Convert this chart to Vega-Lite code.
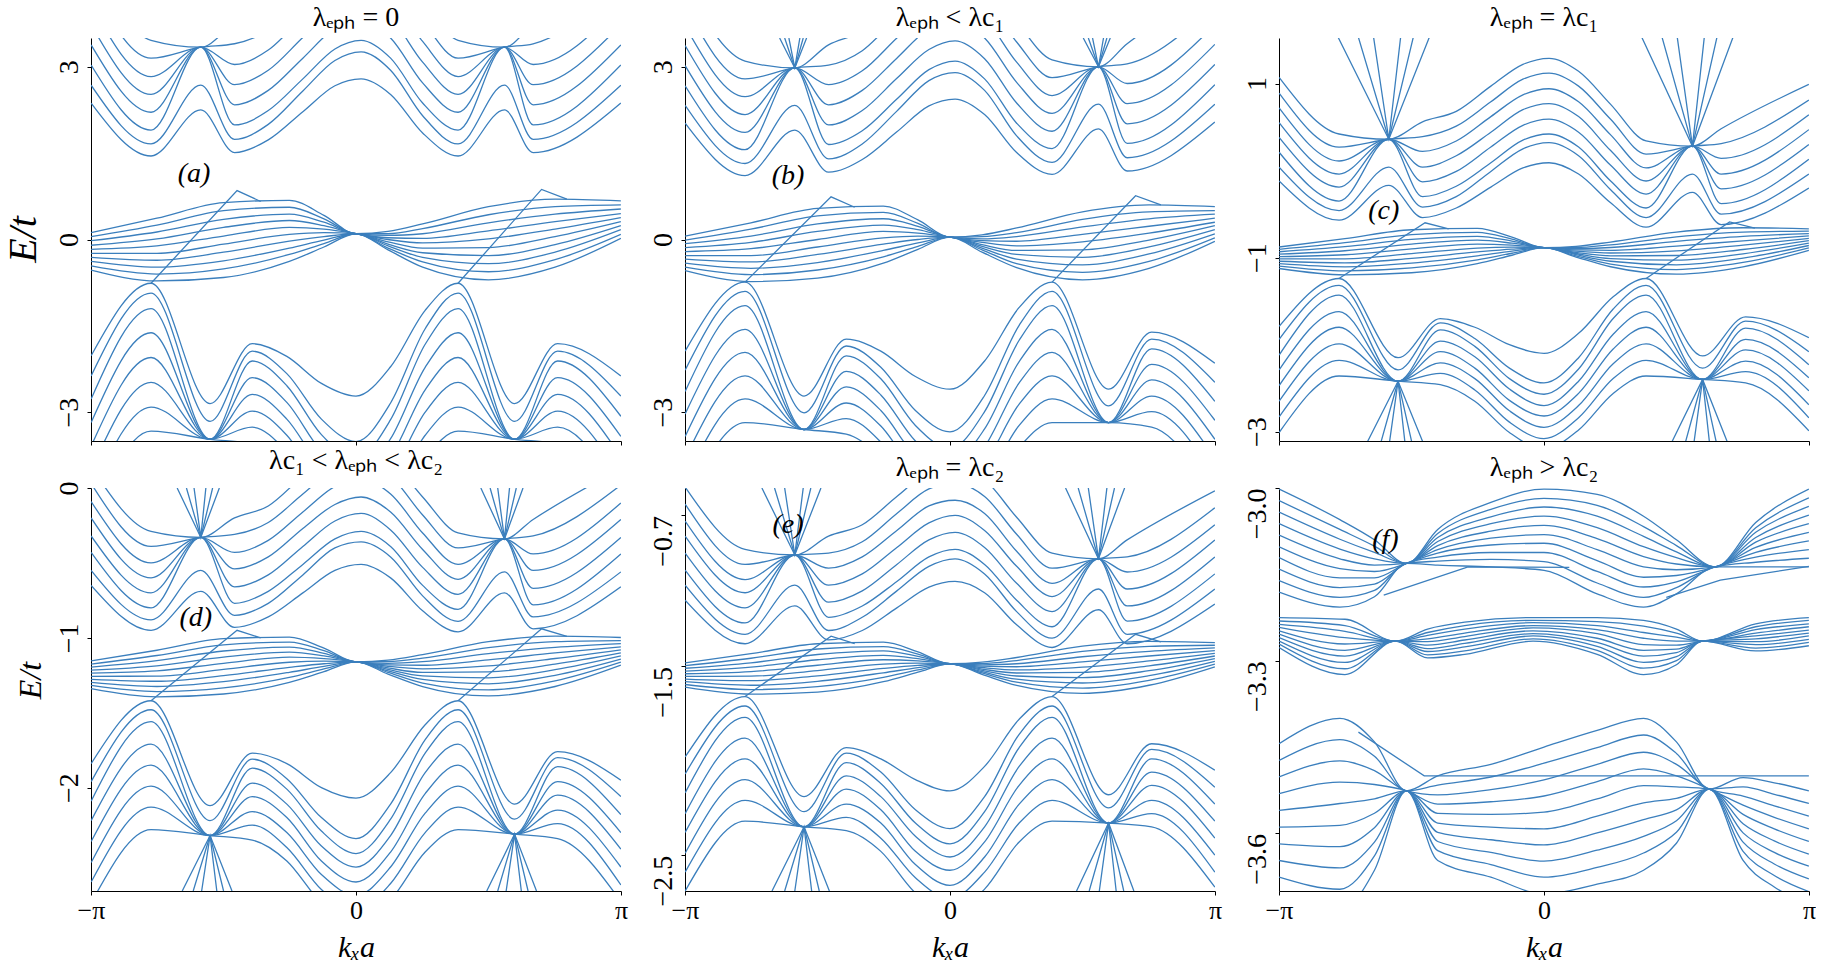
{
"$schema":"https://vega.github.io/schema/vega-lite/v6.json",
"background":"white",
"padding":{"left":3,"top":4,"right":0,"bottom":0},
"config":{
"view":{"stroke":null},
"font":"Liberation Serif",
"title":{"font":"Liberation Serif","fontSize":28,"fontWeight":"normal","color":"#000","offset":6},
"axis":{"grid":false,"domainColor":"#000","domainWidth":1,"tickColor":"#000","tickSize":4,"labelColor":"#000","labelFont":"Liberation Serif","labelFontSize":28,"titleFont":"Liberation Serif","titleFontWeight":"normal","titleFontStyle":"italic","titleColor":"#000","labelOverlap":false},
"axisY":{"labelAngle":-90,"labelAlign":"center","labelBaseline":"bottom","labelPadding":4},
"axisX":{"labelAngle":0,"labelPadding":2,"labelFontSize":26,"labelFlush":false},
"line":{"color":"#3b7fbd","strokeWidth":1.3}
},
"spacing":0,
"vconcat":[
{"hconcat":[
{"width":530,"height":403,"title":"λₑₚₕ = 0",
"encoding":{"x":{"field":"x","type":"quantitative","scale":{"domain":[-3.1416,3.1416],"nice":false,"zero":false},"axis":{"values":[-3.1416,0,3.1416],"labels":false,"title":null}},
"y":{"field":"y","type":"quantitative","scale":{"domain":[-3.5,3.5],"nice":false,"zero":false},"axis":{"values":[-3,0,3],"title":"E/t","titleFontSize":40,"titleX":-68,"titleY":201,"titleAlign":"center","titleBaseline":"middle","titleAngle":-90}}},
"layer":[
{"data":{"name":"a1"},"mark":{"type":"line","interpolate":"monotone","clip":true},"encoding":{"detail":{"field":"l","type":"nominal"}}},
{"data":{"name":"a2"},"mark":{"type":"line","interpolate":"monotone","clip":true},"encoding":{"detail":{"field":"l","type":"nominal"}}},
{"data":{"name":"a3"},"mark":{"type":"line","clip":true},"encoding":{"detail":{"field":"l","type":"nominal"}}},
{"data":{"values":[{"x":-1.92,"y":1.13,"t":"(a)"}]},"mark":{"type":"text","fontSize":28,"fontStyle":"italic","color":"#000"},"encoding":{"text":{"field":"t","type":"nominal"}}}
]},
{"width":530,"height":403,"title":"λₑₚₕ < λc₁",
"encoding":{"x":{"field":"x","type":"quantitative","scale":{"domain":[-3.1416,3.1416],"nice":false,"zero":false},"axis":{"values":[-3.1416,0,3.1416],"labels":false,"title":null}},
"y":{"field":"y","type":"quantitative","scale":{"domain":[-3.5,3.5],"nice":false,"zero":false},"axis":{"values":[-3,0,3],"title":null}}},
"layer":[
{"data":{"name":"b1"},"mark":{"type":"line","interpolate":"monotone","clip":true},"encoding":{"detail":{"field":"l","type":"nominal"}}},
{"data":{"name":"b2"},"mark":{"type":"line","interpolate":"monotone","clip":true},"encoding":{"detail":{"field":"l","type":"nominal"}}},
{"data":{"name":"b3"},"mark":{"type":"line","clip":true},"encoding":{"detail":{"field":"l","type":"nominal"}}},
{"data":{"values":[{"x":-1.92,"y":1.1,"t":"(b)"}]},"mark":{"type":"text","fontSize":28,"fontStyle":"italic","color":"#000"},"encoding":{"text":{"field":"t","type":"nominal"}}}
]},
{"width":530,"height":403,"title":"λₑₚₕ = λc₁",
"encoding":{"x":{"field":"x","type":"quantitative","scale":{"domain":[-3.1416,3.1416],"nice":false,"zero":false},"axis":{"values":[-3.1416,0,3.1416],"labels":false,"title":null}},
"y":{"field":"y","type":"quantitative","scale":{"domain":[-3.107,1.523],"nice":false,"zero":false},"axis":{"values":[-3,-1,1],"title":null}}},
"layer":[
{"data":{"name":"c1"},"mark":{"type":"line","interpolate":"monotone","clip":true},"encoding":{"detail":{"field":"l","type":"nominal"}}},
{"data":{"name":"c2"},"mark":{"type":"line","interpolate":"monotone","clip":true},"encoding":{"detail":{"field":"l","type":"nominal"}}},
{"data":{"name":"c3"},"mark":{"type":"line","clip":true},"encoding":{"detail":{"field":"l","type":"nominal"}}},
{"data":{"values":[{"x":-1.9,"y":-0.46,"t":"(c)"}]},"mark":{"type":"text","fontSize":28,"fontStyle":"italic","color":"#000"},"encoding":{"text":{"field":"t","type":"nominal"}}}
]}
],"spacing":64,"bounds":"flush"},
{"hconcat":[
{"width":530,"height":403,"title":"λc₁ < λₑₚₕ < λc₂",
"encoding":{"x":{"field":"x","type":"quantitative","scale":{"domain":[-3.1416,3.1416],"nice":false,"zero":false},"axis":{"values":[-3.1416,0,3.1416],"labelExpr":"datum.value < -1 ? '−π' : (datum.value > 1 ? 'π' : '0')","title":"kₓa","titleFontSize":30,"titleY":56,"titleBaseline":"middle"}},
"y":{"field":"y","type":"quantitative","scale":{"domain":[-2.69,0],"nice":false,"zero":false},"axis":{"values":[-2,-1,0],"title":"E/t","titleFontSize":32,"titleX":-61,"titleY":192,"titleAlign":"center","titleBaseline":"middle","titleAngle":-90}}},
"layer":[
{"data":{"name":"d1"},"mark":{"type":"line","interpolate":"monotone","clip":true},"encoding":{"detail":{"field":"l","type":"nominal"}}},
{"data":{"name":"d2"},"mark":{"type":"line","interpolate":"monotone","clip":true},"encoding":{"detail":{"field":"l","type":"nominal"}}},
{"data":{"name":"d3"},"mark":{"type":"line","clip":true},"encoding":{"detail":{"field":"l","type":"nominal"}}},
{"data":{"values":[{"x":-1.9,"y":-0.87,"t":"(d)"}]},"mark":{"type":"text","fontSize":28,"fontStyle":"italic","color":"#000"},"encoding":{"text":{"field":"t","type":"nominal"}}}
]},
{"width":530,"height":403,"title":"λₑₚₕ = λc₂",
"encoding":{"x":{"field":"x","type":"quantitative","scale":{"domain":[-3.1416,3.1416],"nice":false,"zero":false},"axis":{"values":[-3.1416,0,3.1416],"labelExpr":"datum.value < -1 ? '−π' : (datum.value > 1 ? 'π' : '0')","title":"kₓa","titleFontSize":30,"titleY":56,"titleBaseline":"middle"}},
"y":{"field":"y","type":"quantitative","scale":{"domain":[-2.69,-0.555],"nice":false,"zero":false},"axis":{"values":[-2.5,-1.5,-0.7],"format":".1f","title":null,"labelAlign":"right"}}},
"layer":[
{"data":{"name":"e1"},"mark":{"type":"line","interpolate":"monotone","clip":true},"encoding":{"detail":{"field":"l","type":"nominal"}}},
{"data":{"name":"e2"},"mark":{"type":"line","interpolate":"monotone","clip":true},"encoding":{"detail":{"field":"l","type":"nominal"}}},
{"data":{"name":"e3"},"mark":{"type":"line","clip":true},"encoding":{"detail":{"field":"l","type":"nominal"}}},
{"data":{"values":[{"x":-1.92,"y":-0.75,"t":"(e)"}]},"mark":{"type":"text","fontSize":28,"fontStyle":"italic","color":"#000"},"encoding":{"text":{"field":"t","type":"nominal"}}}
]},
{"width":530,"height":403,"title":"λₑₚₕ > λc₂",
"encoding":{"x":{"field":"x","type":"quantitative","scale":{"domain":[-3.1416,3.1416],"nice":false,"zero":false},"axis":{"values":[-3.1416,0,3.1416],"labelExpr":"datum.value < -1 ? '−π' : (datum.value > 1 ? 'π' : '0')","title":"kₓa","titleFontSize":30,"titleY":56,"titleBaseline":"middle"}},
"y":{"field":"y","type":"quantitative","scale":{"domain":[-3.7,-3.0],"nice":false,"zero":false},"axis":{"values":[-3.6,-3.3,-3.0],"format":".1f","title":null,"labelAlign":"right"}}},
"layer":[
{"data":{"name":"f1"},"mark":{"type":"line","interpolate":"monotone","clip":true},"encoding":{"detail":{"field":"l","type":"nominal"}}},
{"data":{"name":"f2"},"mark":{"type":"line","interpolate":"monotone","clip":true},"encoding":{"detail":{"field":"l","type":"nominal"}}},
{"data":{"name":"f3"},"mark":{"type":"line","clip":true},"encoding":{"detail":{"field":"l","type":"nominal"}}},
{"data":{"values":[{"x":-1.88,"y":-3.09,"t":"(f)"}]},"mark":{"type":"text","fontSize":28,"fontStyle":"italic","color":"#000"},"encoding":{"text":{"field":"t","type":"nominal"}}}
]}
],"spacing":64,"bounds":"flush"}
],
"datasets":{
"a1":[
{"l":11,"x":-3.14,"y":0.12},{"l":11,"x":-2.36,"y":0.37},{"l":11,"x":-1.57,"y":0.64},{"l":11,"x":-0.79,"y":0.68},{"l":11,"x":-0.38,"y":0.42},{"l":11,"x":0,"y":0.1},{"l":11,"x":0.38,"y":0.14},{"l":11,"x":0.79,"y":0.27},{"l":11,"x":1.57,"y":0.57},{"l":11,"x":2.36,"y":0.7},{"l":11,"x":3.14,"y":0.67},
{"l":12,"x":-3.14,"y":0.05},{"l":12,"x":-2.36,"y":0.25},{"l":12,"x":-1.57,"y":0.5},{"l":12,"x":-0.79,"y":0.56},{"l":12,"x":-0.38,"y":0.36},{"l":12,"x":0,"y":0.1},{"l":12,"x":0.38,"y":0.1},{"l":12,"x":0.79,"y":0.19},{"l":12,"x":1.57,"y":0.43},{"l":12,"x":2.36,"y":0.57},{"l":12,"x":3.14,"y":0.6},
{"l":13,"x":-3.14,"y":-0.02},{"l":13,"x":-2.36,"y":0.13},{"l":13,"x":-1.57,"y":0.35},{"l":13,"x":-0.79,"y":0.44},{"l":13,"x":-0.38,"y":0.3},{"l":13,"x":0,"y":0.1},{"l":13,"x":0.38,"y":0.07},{"l":13,"x":0.79,"y":0.1},{"l":13,"x":1.57,"y":0.29},{"l":13,"x":2.36,"y":0.44},{"l":13,"x":3.14,"y":0.53},
{"l":14,"x":-3.14,"y":-0.1},{"l":14,"x":-2.36,"y":0.01},{"l":14,"x":-1.57,"y":0.21},{"l":14,"x":-0.79,"y":0.33},{"l":14,"x":-0.38,"y":0.24},{"l":14,"x":0,"y":0.1},{"l":14,"x":0.38,"y":0.03},{"l":14,"x":0.79,"y":0.02},{"l":14,"x":1.57,"y":0.15},{"l":14,"x":2.36,"y":0.31},{"l":14,"x":3.14,"y":0.45},
{"l":15,"x":-3.14,"y":-0.17},{"l":15,"x":-2.36,"y":-0.11},{"l":15,"x":-1.57,"y":0.06},{"l":15,"x":-0.79,"y":0.21},{"l":15,"x":-0.38,"y":0.18},{"l":15,"x":0,"y":0.1},{"l":15,"x":0.38,"y":0},{"l":15,"x":0.79,"y":-0.06},{"l":15,"x":1.57,"y":0.01},{"l":15,"x":2.36,"y":0.18},{"l":15,"x":3.14,"y":0.38},
{"l":16,"x":-3.14,"y":-0.24},{"l":16,"x":-2.36,"y":-0.24},{"l":16,"x":-1.57,"y":-0.08},{"l":16,"x":-0.79,"y":0.09},{"l":16,"x":-0.38,"y":0.12},{"l":16,"x":0,"y":0.1},{"l":16,"x":0.38,"y":-0.04},{"l":16,"x":0.79,"y":-0.15},{"l":16,"x":1.57,"y":-0.14},{"l":16,"x":2.36,"y":0.05},{"l":16,"x":3.14,"y":0.31},
{"l":17,"x":-3.14,"y":-0.31},{"l":17,"x":-2.36,"y":-0.36},{"l":17,"x":-1.57,"y":-0.22},{"l":17,"x":-0.79,"y":-0.03},{"l":17,"x":-0.38,"y":0.05},{"l":17,"x":0,"y":0.1},{"l":17,"x":0.38,"y":-0.08},{"l":17,"x":0.79,"y":-0.23},{"l":17,"x":1.57,"y":-0.28},{"l":17,"x":2.36,"y":-0.09},{"l":17,"x":3.14,"y":0.24},
{"l":18,"x":-3.14,"y":-0.38},{"l":18,"x":-2.36,"y":-0.48},{"l":18,"x":-1.57,"y":-0.37},{"l":18,"x":-0.79,"y":-0.15},{"l":18,"x":-0.38,"y":-0.01},{"l":18,"x":0,"y":0.1},{"l":18,"x":0.38,"y":-0.11},{"l":18,"x":0.79,"y":-0.31},{"l":18,"x":1.57,"y":-0.42},{"l":18,"x":2.36,"y":-0.22},{"l":18,"x":3.14,"y":0.17},
{"l":19,"x":-3.14,"y":-0.46},{"l":19,"x":-2.36,"y":-0.6},{"l":19,"x":-1.57,"y":-0.51},{"l":19,"x":-0.79,"y":-0.26},{"l":19,"x":-0.38,"y":-0.07},{"l":19,"x":0,"y":0.1},{"l":19,"x":0.38,"y":-0.15},{"l":19,"x":0.79,"y":-0.39},{"l":19,"x":1.57,"y":-0.56},{"l":19,"x":2.36,"y":-0.35},{"l":19,"x":3.14,"y":0.09},
{"l":20,"x":-3.14,"y":-0.53},{"l":20,"x":-2.36,"y":-0.72},{"l":20,"x":-1.57,"y":-0.66},{"l":20,"x":-0.79,"y":-0.38},{"l":20,"x":-0.38,"y":-0.13},{"l":20,"x":0,"y":0.1},{"l":20,"x":0.38,"y":-0.18},{"l":20,"x":0.79,"y":-0.48},{"l":20,"x":1.57,"y":-0.7},{"l":20,"x":2.36,"y":-0.48},{"l":20,"x":3.14,"y":0.02}
],
"a2":[
{"l":1,"x":-3.14,"y":2.37},{"l":1,"x":-2.43,"y":1.45},{"l":1,"x":-1.84,"y":2.25},{"l":1,"x":-1.44,"y":1.51},{"l":1,"x":-1.04,"y":1.73},{"l":1,"x":-0.63,"y":2.22},{"l":1,"x":-0.25,"y":2.67},{"l":1,"x":0.06,"y":2.79},{"l":1,"x":0.41,"y":2.52},{"l":1,"x":0.79,"y":1.85},{"l":1,"x":1.21,"y":1.45},{"l":1,"x":1.76,"y":2.25},{"l":1,"x":2.1,"y":1.51},{"l":1,"x":3.14,"y":2.37},
{"l":2,"x":-3.14,"y":2.68},{"l":2,"x":-2.43,"y":1.66},{"l":2,"x":-1.84,"y":2.68},{"l":2,"x":-1.44,"y":1.74},{"l":2,"x":-1.04,"y":2.0},{"l":2,"x":-0.63,"y":2.58},{"l":2,"x":-0.25,"y":3.11},{"l":2,"x":0.06,"y":3.26},{"l":2,"x":0.41,"y":2.94},{"l":2,"x":0.79,"y":2.15},{"l":2,"x":1.21,"y":1.66},{"l":2,"x":1.76,"y":2.68},{"l":2,"x":2.1,"y":1.74},{"l":2,"x":3.14,"y":2.68},
{"l":3,"x":-3.14,"y":3.03},{"l":3,"x":-2.43,"y":1.9},{"l":3,"x":-1.84,"y":3.34},{"l":3,"x":-1.44,"y":1.99},{"l":3,"x":-1.04,"y":2.24},{"l":3,"x":-0.63,"y":2.79},{"l":3,"x":-0.25,"y":3.31},{"l":3,"x":0.06,"y":3.46},{"l":3,"x":0.41,"y":3.15},{"l":3,"x":0.79,"y":2.37},{"l":3,"x":1.21,"y":1.9},{"l":3,"x":1.76,"y":3.34},{"l":3,"x":2.1,"y":1.99},{"l":3,"x":3.14,"y":3.03},
{"l":4,"x":-3.14,"y":3.38},{"l":4,"x":-2.43,"y":2.21},{"l":4,"x":-1.84,"y":3.34},{"l":4,"x":-1.44,"y":2.34},{"l":4,"x":-1.04,"y":2.59},{"l":4,"x":-0.63,"y":3.15},{"l":4,"x":-0.25,"y":3.67},{"l":4,"x":0.06,"y":3.82},{"l":4,"x":0.41,"y":3.5},{"l":4,"x":0.79,"y":2.72},{"l":4,"x":1.21,"y":2.21},{"l":4,"x":1.76,"y":3.34},{"l":4,"x":2.1,"y":2.34},{"l":4,"x":3.14,"y":3.38},
{"l":5,"x":-3.14,"y":3.73},{"l":5,"x":-2.43,"y":2.52},{"l":5,"x":-1.84,"y":3.34},{"l":5,"x":-1.44,"y":2.69},{"l":5,"x":-1.04,"y":2.94},{"l":5,"x":-0.63,"y":3.51},{"l":5,"x":-0.25,"y":4.03},{"l":5,"x":0.06,"y":4.18},{"l":5,"x":0.41,"y":3.86},{"l":5,"x":0.79,"y":3.08},{"l":5,"x":1.21,"y":2.52},{"l":5,"x":1.76,"y":3.34},{"l":5,"x":2.1,"y":2.69},{"l":5,"x":3.14,"y":3.73},
{"l":6,"x":-3.14,"y":4.08},{"l":6,"x":-2.43,"y":2.83},{"l":6,"x":-1.84,"y":3.34},{"l":6,"x":-1.44,"y":3.04},{"l":6,"x":-1.04,"y":3.29},{"l":6,"x":-0.63,"y":3.87},{"l":6,"x":-0.25,"y":4.39},{"l":6,"x":0.06,"y":4.53},{"l":6,"x":0.41,"y":4.22},{"l":6,"x":0.79,"y":3.44},{"l":6,"x":1.21,"y":2.83},{"l":6,"x":1.76,"y":3.34},{"l":6,"x":2.1,"y":3.04},{"l":6,"x":3.14,"y":4.08},
{"l":7,"x":-3.14,"y":4.43},{"l":7,"x":-2.43,"y":3.15},{"l":7,"x":-1.84,"y":3.34},{"l":7,"x":-1.44,"y":3.4},{"l":7,"x":-1.04,"y":3.64},{"l":7,"x":-0.63,"y":4.23},{"l":7,"x":-0.25,"y":4.74},{"l":7,"x":0.06,"y":4.89},{"l":7,"x":0.41,"y":4.58},{"l":7,"x":0.79,"y":3.8},{"l":7,"x":1.21,"y":3.15},{"l":7,"x":1.76,"y":3.34},{"l":7,"x":2.1,"y":3.4},{"l":7,"x":3.14,"y":4.43},
{"l":8,"x":-3.14,"y":4.78},{"l":8,"x":-2.43,"y":3.46},{"l":8,"x":-1.84,"y":3.34},{"l":8,"x":-1.44,"y":3.75},{"l":8,"x":-1.04,"y":4.0},{"l":8,"x":-0.63,"y":4.59},{"l":8,"x":-0.25,"y":5.1},{"l":8,"x":0.06,"y":5.25},{"l":8,"x":0.41,"y":4.94},{"l":8,"x":0.79,"y":4.16},{"l":8,"x":1.21,"y":3.46},{"l":8,"x":1.76,"y":3.34},{"l":8,"x":2.1,"y":3.75},{"l":8,"x":3.14,"y":4.78},
{"l":21,"x":-3.14,"y":-2.02},{"l":21,"x":-2.43,"y":-0.76},{"l":21,"x":-1.73,"y":-2.85},{"l":21,"x":-1.23,"y":-1.81},{"l":21,"x":-0.82,"y":-2.03},{"l":21,"x":-0.41,"y":-2.5},{"l":21,"x":0,"y":-2.72},{"l":21,"x":0.41,"y":-2.21},{"l":21,"x":0.82,"y":-1.23},{"l":21,"x":1.21,"y":-0.76},{"l":21,"x":1.88,"y":-2.85},{"l":21,"x":2.39,"y":-1.81},{"l":21,"x":3.14,"y":-2.37},
{"l":22,"x":-3.14,"y":-2.37},{"l":22,"x":-2.43,"y":-0.93},{"l":22,"x":-1.73,"y":-3.16},{"l":22,"x":-1.23,"y":-1.94},{"l":22,"x":-0.82,"y":-2.33},{"l":22,"x":-0.41,"y":-3.12},{"l":22,"x":0,"y":-3.51},{"l":22,"x":0.41,"y":-2.84},{"l":22,"x":0.82,"y":-1.55},{"l":22,"x":1.21,"y":-0.93},{"l":22,"x":1.88,"y":-3.16},{"l":22,"x":2.39,"y":-1.94},{"l":22,"x":3.14,"y":-2.72},
{"l":23,"x":-3.14,"y":-2.77},{"l":23,"x":-2.43,"y":-1.2},{"l":23,"x":-1.73,"y":-3.47},{"l":23,"x":-1.23,"y":-2.11},{"l":23,"x":-0.82,"y":-2.54},{"l":23,"x":-0.41,"y":-3.39},{"l":23,"x":0,"y":-3.81},{"l":23,"x":0.41,"y":-3.13},{"l":23,"x":0.82,"y":-1.82},{"l":23,"x":1.21,"y":-1.2},{"l":23,"x":1.88,"y":-3.47},{"l":23,"x":2.39,"y":-2.11},{"l":23,"x":3.14,"y":-3.07},
{"l":24,"x":-3.14,"y":-3.18},{"l":24,"x":-2.43,"y":-1.62},{"l":24,"x":-1.73,"y":-3.47},{"l":24,"x":-1.23,"y":-2.4},{"l":24,"x":-0.82,"y":-2.83},{"l":24,"x":-0.41,"y":-3.68},{"l":24,"x":0,"y":-4.1},{"l":24,"x":0.41,"y":-3.46},{"l":24,"x":0.82,"y":-2.22},{"l":24,"x":1.21,"y":-1.62},{"l":24,"x":1.88,"y":-3.47},{"l":24,"x":2.39,"y":-2.4},{"l":24,"x":3.14,"y":-3.42},
{"l":25,"x":-3.14,"y":-3.59},{"l":25,"x":-2.43,"y":-2.05},{"l":25,"x":-1.73,"y":-3.47},{"l":25,"x":-1.23,"y":-2.69},{"l":25,"x":-0.82,"y":-3.12},{"l":25,"x":-0.41,"y":-3.96},{"l":25,"x":0,"y":-4.39},{"l":25,"x":0.41,"y":-3.78},{"l":25,"x":0.82,"y":-2.61},{"l":25,"x":1.21,"y":-2.05},{"l":25,"x":1.88,"y":-3.47},{"l":25,"x":2.39,"y":-2.69},{"l":25,"x":3.14,"y":-3.77},
{"l":26,"x":-3.14,"y":-4.0},{"l":26,"x":-2.43,"y":-2.48},{"l":26,"x":-1.73,"y":-3.47},{"l":26,"x":-1.23,"y":-2.98},{"l":26,"x":-0.82,"y":-3.4},{"l":26,"x":-0.41,"y":-4.25},{"l":26,"x":0,"y":-4.68},{"l":26,"x":0.41,"y":-4.1},{"l":26,"x":0.82,"y":-3.0},{"l":26,"x":1.21,"y":-2.48},{"l":26,"x":1.88,"y":-3.47},{"l":26,"x":2.39,"y":-2.98},{"l":26,"x":3.14,"y":-4.12},
{"l":27,"x":-3.14,"y":-4.41},{"l":27,"x":-2.43,"y":-2.91},{"l":27,"x":-1.73,"y":-3.47},{"l":27,"x":-1.23,"y":-3.26},{"l":27,"x":-0.82,"y":-3.69},{"l":27,"x":-0.41,"y":-4.54},{"l":27,"x":0,"y":-4.97},{"l":27,"x":0.41,"y":-4.43},{"l":27,"x":0.82,"y":-3.4},{"l":27,"x":1.21,"y":-2.91},{"l":27,"x":1.88,"y":-3.47},{"l":27,"x":2.39,"y":-3.26},{"l":27,"x":3.14,"y":-4.47},
{"l":28,"x":-3.14,"y":-4.82},{"l":28,"x":-2.43,"y":-3.33},{"l":28,"x":-1.73,"y":-3.47},{"l":28,"x":-1.23,"y":-3.55},{"l":28,"x":-0.82,"y":-3.98},{"l":28,"x":-0.41,"y":-4.83},{"l":28,"x":0,"y":-5.26},{"l":28,"x":0.41,"y":-4.75},{"l":28,"x":0.82,"y":-3.79},{"l":28,"x":1.21,"y":-3.33},{"l":28,"x":1.88,"y":-3.47},{"l":28,"x":2.39,"y":-3.55},{"l":28,"x":3.14,"y":-4.82}
],
"a3":[
{"l":51,"x":-2.43,"y":-0.76},{"l":51,"x":-1.41,"y":0.85},{"l":51,"x":-1.13,"y":0.66},
{"l":52,"x":1.21,"y":-0.76},{"l":52,"x":2.2,"y":0.87},{"l":52,"x":2.5,"y":0.7}
],
"b1":[
{"l":11,"x":-3.14,"y":0.06},{"l":11,"x":-2.36,"y":0.29},{"l":11,"x":-1.57,"y":0.54},{"l":11,"x":-0.79,"y":0.58},{"l":11,"x":-0.38,"y":0.34},{"l":11,"x":0,"y":0.04},{"l":11,"x":0.38,"y":0.08},{"l":11,"x":0.79,"y":0.2},{"l":11,"x":1.57,"y":0.48},{"l":11,"x":2.36,"y":0.6},{"l":11,"x":3.14,"y":0.57},
{"l":12,"x":-3.14,"y":-0.01},{"l":12,"x":-2.36,"y":0.18},{"l":12,"x":-1.57,"y":0.41},{"l":12,"x":-0.79,"y":0.47},{"l":12,"x":-0.38,"y":0.28},{"l":12,"x":0,"y":0.04},{"l":12,"x":0.38,"y":0.05},{"l":12,"x":0.79,"y":0.12},{"l":12,"x":1.57,"y":0.35},{"l":12,"x":2.36,"y":0.48},{"l":12,"x":3.14,"y":0.5},
{"l":13,"x":-3.14,"y":-0.07},{"l":13,"x":-2.36,"y":0.06},{"l":13,"x":-1.57,"y":0.27},{"l":13,"x":-0.79,"y":0.36},{"l":13,"x":-0.38,"y":0.23},{"l":13,"x":0,"y":0.04},{"l":13,"x":0.38,"y":0.01},{"l":13,"x":0.79,"y":0.05},{"l":13,"x":1.57,"y":0.22},{"l":13,"x":2.36,"y":0.36},{"l":13,"x":3.14,"y":0.44},
{"l":14,"x":-3.14,"y":-0.14},{"l":14,"x":-2.36,"y":-0.05},{"l":14,"x":-1.57,"y":0.14},{"l":14,"x":-0.79,"y":0.25},{"l":14,"x":-0.38,"y":0.17},{"l":14,"x":0,"y":0.04},{"l":14,"x":0.38,"y":-0.02},{"l":14,"x":0.79,"y":-0.03},{"l":14,"x":1.57,"y":0.09},{"l":14,"x":2.36,"y":0.23},{"l":14,"x":3.14,"y":0.37},
{"l":15,"x":-3.14,"y":-0.21},{"l":15,"x":-2.36,"y":-0.16},{"l":15,"x":-1.57,"y":0},{"l":15,"x":-0.79,"y":0.14},{"l":15,"x":-0.38,"y":0.11},{"l":15,"x":0,"y":0.04},{"l":15,"x":0.38,"y":-0.05},{"l":15,"x":0.79,"y":-0.11},{"l":15,"x":1.57,"y":-0.04},{"l":15,"x":2.36,"y":0.11},{"l":15,"x":3.14,"y":0.3},
{"l":16,"x":-3.14,"y":-0.28},{"l":16,"x":-2.36,"y":-0.28},{"l":16,"x":-1.57,"y":-0.13},{"l":16,"x":-0.79,"y":0.03},{"l":16,"x":-0.38,"y":0.06},{"l":16,"x":0,"y":0.04},{"l":16,"x":0.38,"y":-0.09},{"l":16,"x":0.79,"y":-0.19},{"l":16,"x":1.57,"y":-0.18},{"l":16,"x":2.36,"y":-0.01},{"l":16,"x":3.14,"y":0.24},
{"l":17,"x":-3.14,"y":-0.34},{"l":17,"x":-2.36,"y":-0.39},{"l":17,"x":-1.57,"y":-0.26},{"l":17,"x":-0.79,"y":-0.08},{"l":17,"x":-0.38,"y":0},{"l":17,"x":0,"y":0.04},{"l":17,"x":0.38,"y":-0.12},{"l":17,"x":0.79,"y":-0.26},{"l":17,"x":1.57,"y":-0.31},{"l":17,"x":2.36,"y":-0.13},{"l":17,"x":3.14,"y":0.17},
{"l":18,"x":-3.14,"y":-0.41},{"l":18,"x":-2.36,"y":-0.5},{"l":18,"x":-1.57,"y":-0.4},{"l":18,"x":-0.79,"y":-0.19},{"l":18,"x":-0.38,"y":-0.06},{"l":18,"x":0,"y":0.04},{"l":18,"x":0.38,"y":-0.15},{"l":18,"x":0.79,"y":-0.34},{"l":18,"x":1.57,"y":-0.44},{"l":18,"x":2.36,"y":-0.25},{"l":18,"x":3.14,"y":0.1},
{"l":19,"x":-3.14,"y":-0.48},{"l":19,"x":-2.36,"y":-0.61},{"l":19,"x":-1.57,"y":-0.53},{"l":19,"x":-0.79,"y":-0.3},{"l":19,"x":-0.38,"y":-0.12},{"l":19,"x":0,"y":0.04},{"l":19,"x":0.38,"y":-0.18},{"l":19,"x":0.79,"y":-0.42},{"l":19,"x":1.57,"y":-0.57},{"l":19,"x":2.36,"y":-0.38},{"l":19,"x":3.14,"y":0.03},
{"l":20,"x":-3.14,"y":-0.54},{"l":20,"x":-2.36,"y":-0.73},{"l":20,"x":-1.57,"y":-0.67},{"l":20,"x":-0.79,"y":-0.41},{"l":20,"x":-0.38,"y":-0.17},{"l":20,"x":0,"y":0.04},{"l":20,"x":0.38,"y":-0.22},{"l":20,"x":0.79,"y":-0.49},{"l":20,"x":1.57,"y":-0.7},{"l":20,"x":2.36,"y":-0.5},{"l":20,"x":3.14,"y":-0.03}
],
"b2":[
{"l":1,"x":-3.14,"y":2.02},{"l":1,"x":-2.43,"y":1.11},{"l":1,"x":-1.84,"y":1.9},{"l":1,"x":-1.44,"y":1.17},{"l":1,"x":-1.04,"y":1.39},{"l":1,"x":-0.63,"y":1.87},{"l":1,"x":-0.25,"y":2.32},{"l":1,"x":0.06,"y":2.44},{"l":1,"x":0.41,"y":2.17},{"l":1,"x":0.79,"y":1.51},{"l":1,"x":1.21,"y":1.13},{"l":1,"x":1.76,"y":1.92},{"l":1,"x":2.1,"y":1.19},{"l":1,"x":3.14,"y":2.04},
{"l":2,"x":-3.14,"y":2.33},{"l":2,"x":-2.43,"y":1.32},{"l":2,"x":-1.84,"y":2.33},{"l":2,"x":-1.44,"y":1.4},{"l":2,"x":-1.04,"y":1.66},{"l":2,"x":-0.63,"y":2.23},{"l":2,"x":-0.25,"y":2.76},{"l":2,"x":0.06,"y":2.9},{"l":2,"x":0.41,"y":2.59},{"l":2,"x":0.79,"y":1.8},{"l":2,"x":1.21,"y":1.34},{"l":2,"x":1.76,"y":2.35},{"l":2,"x":2.1,"y":1.42},{"l":2,"x":3.14,"y":2.35},
{"l":3,"x":-3.14,"y":2.67},{"l":3,"x":-2.43,"y":1.56},{"l":3,"x":-1.84,"y":2.98},{"l":3,"x":-1.44,"y":1.65},{"l":3,"x":-1.04,"y":1.89},{"l":3,"x":-0.63,"y":2.44},{"l":3,"x":-0.25,"y":2.95},{"l":3,"x":0.06,"y":3.1},{"l":3,"x":0.41,"y":2.79},{"l":3,"x":0.79,"y":2.02},{"l":3,"x":1.21,"y":1.58},{"l":3,"x":1.76,"y":3.0},{"l":3,"x":2.1,"y":1.67},{"l":3,"x":3.14,"y":2.69},
{"l":4,"x":-3.14,"y":3.02},{"l":4,"x":-2.43,"y":1.86},{"l":4,"x":-1.84,"y":2.98},{"l":4,"x":-1.44,"y":1.99},{"l":4,"x":-1.04,"y":2.24},{"l":4,"x":-0.63,"y":2.8},{"l":4,"x":-0.25,"y":3.3},{"l":4,"x":0.06,"y":3.45},{"l":4,"x":0.41,"y":3.14},{"l":4,"x":0.79,"y":2.37},{"l":4,"x":1.21,"y":1.88},{"l":4,"x":1.76,"y":3.0},{"l":4,"x":2.1,"y":2.01},{"l":4,"x":3.14,"y":3.04},
{"l":5,"x":-3.14,"y":3.37},{"l":5,"x":-2.43,"y":2.17},{"l":5,"x":-1.84,"y":2.98},{"l":5,"x":-1.44,"y":2.34},{"l":5,"x":-1.04,"y":2.59},{"l":5,"x":-0.63,"y":3.15},{"l":5,"x":-0.25,"y":3.66},{"l":5,"x":0.06,"y":3.8},{"l":5,"x":0.41,"y":3.5},{"l":5,"x":0.79,"y":2.73},{"l":5,"x":1.21,"y":2.19},{"l":5,"x":1.76,"y":3.0},{"l":5,"x":2.1,"y":2.36},{"l":5,"x":3.14,"y":3.39},
{"l":6,"x":-3.14,"y":3.71},{"l":6,"x":-2.43,"y":2.48},{"l":6,"x":-1.84,"y":2.98},{"l":6,"x":-1.44,"y":2.69},{"l":6,"x":-1.04,"y":2.93},{"l":6,"x":-0.63,"y":3.5},{"l":6,"x":-0.25,"y":4.01},{"l":6,"x":0.06,"y":4.16},{"l":6,"x":0.41,"y":3.85},{"l":6,"x":0.79,"y":3.08},{"l":6,"x":1.21,"y":2.5},{"l":6,"x":1.76,"y":3.0},{"l":6,"x":2.1,"y":2.71},{"l":6,"x":3.14,"y":3.73},
{"l":7,"x":-3.14,"y":4.06},{"l":7,"x":-2.43,"y":2.79},{"l":7,"x":-1.84,"y":2.98},{"l":7,"x":-1.44,"y":3.03},{"l":7,"x":-1.04,"y":3.28},{"l":7,"x":-0.63,"y":3.86},{"l":7,"x":-0.25,"y":4.37},{"l":7,"x":0.06,"y":4.51},{"l":7,"x":0.41,"y":4.2},{"l":7,"x":0.79,"y":3.43},{"l":7,"x":1.21,"y":2.81},{"l":7,"x":1.76,"y":3.0},{"l":7,"x":2.1,"y":3.05},{"l":7,"x":3.14,"y":4.08},
{"l":8,"x":-3.14,"y":4.41},{"l":8,"x":-2.43,"y":3.1},{"l":8,"x":-1.84,"y":2.98},{"l":8,"x":-1.44,"y":3.38},{"l":8,"x":-1.04,"y":3.63},{"l":8,"x":-0.63,"y":4.21},{"l":8,"x":-0.25,"y":4.72},{"l":8,"x":0.06,"y":4.87},{"l":8,"x":0.41,"y":4.56},{"l":8,"x":0.79,"y":3.79},{"l":8,"x":1.21,"y":3.12},{"l":8,"x":1.76,"y":3.0},{"l":8,"x":2.1,"y":3.4},{"l":8,"x":3.14,"y":4.43},
{"l":21,"x":-3.14,"y":-1.94},{"l":21,"x":-2.43,"y":-0.74},{"l":21,"x":-1.73,"y":-2.72},{"l":21,"x":-1.23,"y":-1.73},{"l":21,"x":-0.82,"y":-1.94},{"l":21,"x":-0.41,"y":-2.38},{"l":21,"x":0,"y":-2.6},{"l":21,"x":0.41,"y":-2.11},{"l":21,"x":0.82,"y":-1.18},{"l":21,"x":1.21,"y":-0.74},{"l":21,"x":1.88,"y":-2.6},{"l":21,"x":2.39,"y":-1.61},{"l":21,"x":3.14,"y":-2.15},
{"l":22,"x":-3.14,"y":-2.27},{"l":22,"x":-2.43,"y":-0.9},{"l":22,"x":-1.73,"y":-3.01},{"l":22,"x":-1.23,"y":-1.85},{"l":22,"x":-0.82,"y":-2.22},{"l":22,"x":-0.41,"y":-2.97},{"l":22,"x":0,"y":-3.34},{"l":22,"x":0.41,"y":-2.71},{"l":22,"x":0.82,"y":-1.49},{"l":22,"x":1.21,"y":-0.9},{"l":22,"x":1.88,"y":-2.89},{"l":22,"x":2.39,"y":-1.73},{"l":22,"x":3.14,"y":-2.48},
{"l":23,"x":-3.14,"y":-2.64},{"l":23,"x":-2.43,"y":-1.15},{"l":23,"x":-1.73,"y":-3.3},{"l":23,"x":-1.23,"y":-2.02},{"l":23,"x":-0.82,"y":-2.42},{"l":23,"x":-0.41,"y":-3.23},{"l":23,"x":0,"y":-3.63},{"l":23,"x":0.41,"y":-2.99},{"l":23,"x":0.82,"y":-1.75},{"l":23,"x":1.21,"y":-1.15},{"l":23,"x":1.88,"y":-3.18},{"l":23,"x":2.39,"y":-1.9},{"l":23,"x":3.14,"y":-2.81},
{"l":24,"x":-3.14,"y":-3.03},{"l":24,"x":-2.43,"y":-1.56},{"l":24,"x":-1.73,"y":-3.3},{"l":24,"x":-1.23,"y":-2.29},{"l":24,"x":-0.82,"y":-2.7},{"l":24,"x":-0.41,"y":-3.5},{"l":24,"x":0,"y":-3.9},{"l":24,"x":0.41,"y":-3.29},{"l":24,"x":0.82,"y":-2.12},{"l":24,"x":1.21,"y":-1.56},{"l":24,"x":1.88,"y":-3.18},{"l":24,"x":2.39,"y":-2.17},{"l":24,"x":3.14,"y":-3.14},
{"l":25,"x":-3.14,"y":-3.42},{"l":25,"x":-2.43,"y":-1.96},{"l":25,"x":-1.73,"y":-3.3},{"l":25,"x":-1.23,"y":-2.56},{"l":25,"x":-0.82,"y":-2.97},{"l":25,"x":-0.41,"y":-3.77},{"l":25,"x":0,"y":-4.18},{"l":25,"x":0.41,"y":-3.6},{"l":25,"x":0.82,"y":-2.49},{"l":25,"x":1.21,"y":-1.96},{"l":25,"x":1.88,"y":-3.18},{"l":25,"x":2.39,"y":-2.44},{"l":25,"x":3.14,"y":-3.47},
{"l":26,"x":-3.14,"y":-3.8},{"l":26,"x":-2.43,"y":-2.37},{"l":26,"x":-1.73,"y":-3.3},{"l":26,"x":-1.23,"y":-2.84},{"l":26,"x":-0.82,"y":-3.24},{"l":26,"x":-0.41,"y":-4.04},{"l":26,"x":0,"y":-4.45},{"l":26,"x":0.41,"y":-3.9},{"l":26,"x":0.82,"y":-2.86},{"l":26,"x":1.21,"y":-2.37},{"l":26,"x":1.88,"y":-3.18},{"l":26,"x":2.39,"y":-2.72},{"l":26,"x":3.14,"y":-3.8},
{"l":27,"x":-3.14,"y":-4.19},{"l":27,"x":-2.43,"y":-2.77},{"l":27,"x":-1.73,"y":-3.3},{"l":27,"x":-1.23,"y":-3.11},{"l":27,"x":-0.82,"y":-3.52},{"l":27,"x":-0.41,"y":-4.32},{"l":27,"x":0,"y":-4.72},{"l":27,"x":0.41,"y":-4.21},{"l":27,"x":0.82,"y":-3.23},{"l":27,"x":1.21,"y":-2.77},{"l":27,"x":1.88,"y":-3.18},{"l":27,"x":2.39,"y":-2.99},{"l":27,"x":3.14,"y":-4.13},
{"l":28,"x":-3.14,"y":-4.58},{"l":28,"x":-2.43,"y":-3.18},{"l":28,"x":-1.73,"y":-3.3},{"l":28,"x":-1.23,"y":-3.38},{"l":28,"x":-0.82,"y":-3.79},{"l":28,"x":-0.41,"y":-4.59},{"l":28,"x":0,"y":-5.0},{"l":28,"x":0.41,"y":-4.52},{"l":28,"x":0.82,"y":-3.61},{"l":28,"x":1.21,"y":-3.18},{"l":28,"x":1.88,"y":-3.18},{"l":28,"x":2.39,"y":-3.26},{"l":28,"x":3.14,"y":-4.46}
],
"b3":[
{"l":31,"x":-2.02,"y":3.5},{"l":31,"x":-1.84,"y":2.98},{"l":31,"x":-1.7,"y":3.5},
{"l":32,"x":-1.96,"y":3.5},{"l":32,"x":-1.84,"y":2.98},{"l":32,"x":-1.74,"y":3.5},
{"l":33,"x":-1.91,"y":3.5},{"l":33,"x":-1.84,"y":2.98},{"l":33,"x":-1.78,"y":3.5},
{"l":34,"x":1.58,"y":3.5},{"l":34,"x":1.76,"y":3.0},{"l":34,"x":1.9,"y":3.5},
{"l":35,"x":1.64,"y":3.5},{"l":35,"x":1.76,"y":3.0},{"l":35,"x":1.86,"y":3.5},
{"l":36,"x":1.69,"y":3.5},{"l":36,"x":1.76,"y":3.0},{"l":36,"x":1.82,"y":3.5},
{"l":51,"x":-2.43,"y":-0.74},{"l":51,"x":-1.41,"y":0.74},{"l":51,"x":-1.13,"y":0.56},
{"l":52,"x":1.21,"y":-0.74},{"l":52,"x":2.2,"y":0.76},{"l":52,"x":2.5,"y":0.6}
],
"c1":[
{"l":11,"x":-3.14,"y":-0.878},{"l":11,"x":-2.36,"y":-0.783},{"l":11,"x":-1.57,"y":-0.68},{"l":11,"x":-0.79,"y":-0.665},{"l":11,"x":-0.38,"y":-0.764},{"l":11,"x":0,"y":-0.886},{"l":11,"x":0.38,"y":-0.871},{"l":11,"x":0.79,"y":-0.821},{"l":11,"x":1.57,"y":-0.707},{"l":11,"x":2.36,"y":-0.657},{"l":11,"x":3.14,"y":-0.669},
{"l":12,"x":-3.14,"y":-0.905},{"l":12,"x":-2.36,"y":-0.829},{"l":12,"x":-1.57,"y":-0.735},{"l":12,"x":-0.79,"y":-0.71},{"l":12,"x":-0.38,"y":-0.787},{"l":12,"x":0,"y":-0.886},{"l":12,"x":0.38,"y":-0.885},{"l":12,"x":0.79,"y":-0.853},{"l":12,"x":1.57,"y":-0.761},{"l":12,"x":2.36,"y":-0.707},{"l":12,"x":3.14,"y":-0.696},
{"l":13,"x":-3.14,"y":-0.933},{"l":13,"x":-2.36,"y":-0.875},{"l":13,"x":-1.57,"y":-0.79},{"l":13,"x":-0.79,"y":-0.755},{"l":13,"x":-0.38,"y":-0.81},{"l":13,"x":0,"y":-0.886},{"l":13,"x":0.38,"y":-0.898},{"l":13,"x":0.79,"y":-0.884},{"l":13,"x":1.57,"y":-0.814},{"l":13,"x":2.36,"y":-0.757},{"l":13,"x":3.14,"y":-0.724},
{"l":14,"x":-3.14,"y":-0.96},{"l":14,"x":-2.36,"y":-0.921},{"l":14,"x":-1.57,"y":-0.845},{"l":14,"x":-0.79,"y":-0.8},{"l":14,"x":-0.38,"y":-0.834},{"l":14,"x":0,"y":-0.886},{"l":14,"x":0.38,"y":-0.912},{"l":14,"x":0.79,"y":-0.916},{"l":14,"x":1.57,"y":-0.868},{"l":14,"x":2.36,"y":-0.807},{"l":14,"x":3.14,"y":-0.751},
{"l":15,"x":-3.14,"y":-0.988},{"l":15,"x":-2.36,"y":-0.967},{"l":15,"x":-1.57,"y":-0.9},{"l":15,"x":-0.79,"y":-0.845},{"l":15,"x":-0.38,"y":-0.857},{"l":15,"x":0,"y":-0.886},{"l":15,"x":0.38,"y":-0.926},{"l":15,"x":0.79,"y":-0.947},{"l":15,"x":1.57,"y":-0.922},{"l":15,"x":2.36,"y":-0.857},{"l":15,"x":3.14,"y":-0.779},
{"l":16,"x":-3.14,"y":-1.015},{"l":16,"x":-2.36,"y":-1.014},{"l":16,"x":-1.57,"y":-0.955},{"l":16,"x":-0.79,"y":-0.89},{"l":16,"x":-0.38,"y":-0.88},{"l":16,"x":0,"y":-0.886},{"l":16,"x":0.38,"y":-0.94},{"l":16,"x":0.79,"y":-0.979},{"l":16,"x":1.57,"y":-0.976},{"l":16,"x":2.36,"y":-0.907},{"l":16,"x":3.14,"y":-0.806},
{"l":17,"x":-3.14,"y":-1.042},{"l":17,"x":-2.36,"y":-1.06},{"l":17,"x":-1.57,"y":-1.009},{"l":17,"x":-0.79,"y":-0.935},{"l":17,"x":-0.38,"y":-0.903},{"l":17,"x":0,"y":-0.886},{"l":17,"x":0.38,"y":-0.953},{"l":17,"x":0.79,"y":-1.011},{"l":17,"x":1.57,"y":-1.029},{"l":17,"x":2.36,"y":-0.956},{"l":17,"x":3.14,"y":-0.833},
{"l":18,"x":-3.14,"y":-1.07},{"l":18,"x":-2.36,"y":-1.106},{"l":18,"x":-1.57,"y":-1.064},{"l":18,"x":-0.79,"y":-0.98},{"l":18,"x":-0.38,"y":-0.926},{"l":18,"x":0,"y":-0.886},{"l":18,"x":0.38,"y":-0.967},{"l":18,"x":0.79,"y":-1.042},{"l":18,"x":1.57,"y":-1.083},{"l":18,"x":2.36,"y":-1.006},{"l":18,"x":3.14,"y":-0.861},
{"l":19,"x":-3.14,"y":-1.097},{"l":19,"x":-2.36,"y":-1.152},{"l":19,"x":-1.57,"y":-1.119},{"l":19,"x":-0.79,"y":-1.025},{"l":19,"x":-0.38,"y":-0.95},{"l":19,"x":0,"y":-0.886},{"l":19,"x":0.38,"y":-0.981},{"l":19,"x":0.79,"y":-1.074},{"l":19,"x":1.57,"y":-1.137},{"l":19,"x":2.36,"y":-1.056},{"l":19,"x":3.14,"y":-0.888},
{"l":20,"x":-3.14,"y":-1.125},{"l":20,"x":-2.36,"y":-1.198},{"l":20,"x":-1.57,"y":-1.174},{"l":20,"x":-0.79,"y":-1.07},{"l":20,"x":-0.38,"y":-0.973},{"l":20,"x":0,"y":-0.886},{"l":20,"x":0.38,"y":-0.994},{"l":20,"x":0.79,"y":-1.105},{"l":20,"x":1.57,"y":-1.19},{"l":20,"x":2.36,"y":-1.106},{"l":20,"x":3.14,"y":-0.916}
],
"c2":[
{"l":1,"x":-3.14,"y":-0.12},{"l":1,"x":-2.43,"y":-0.57},{"l":1,"x":-1.84,"y":-0.17},{"l":1,"x":-1.44,"y":-0.54},{"l":1,"x":-1.04,"y":-0.43},{"l":1,"x":-0.63,"y":-0.19},{"l":1,"x":-0.25,"y":0.03},{"l":1,"x":0.06,"y":0.09},{"l":1,"x":0.41,"y":-0.04},{"l":1,"x":0.79,"y":-0.37},{"l":1,"x":1.21,"y":-0.65},{"l":1,"x":1.76,"y":-0.25},{"l":1,"x":2.1,"y":-0.62},{"l":1,"x":3.14,"y":-0.2},
{"l":2,"x":-3.14,"y":0.04},{"l":2,"x":-2.43,"y":-0.46},{"l":2,"x":-1.84,"y":0.04},{"l":2,"x":-1.44,"y":-0.42},{"l":2,"x":-1.04,"y":-0.3},{"l":2,"x":-0.63,"y":-0.01},{"l":2,"x":-0.25,"y":0.25},{"l":2,"x":0.06,"y":0.32},{"l":2,"x":0.41,"y":0.17},{"l":2,"x":0.79,"y":-0.22},{"l":2,"x":1.21,"y":-0.54},{"l":2,"x":1.76,"y":-0.04},{"l":2,"x":2.1,"y":-0.5},{"l":2,"x":3.14,"y":-0.04},
{"l":3,"x":-3.14,"y":0.21},{"l":3,"x":-2.43,"y":-0.35},{"l":3,"x":-1.84,"y":0.36},{"l":3,"x":-1.44,"y":-0.3},{"l":3,"x":-1.04,"y":-0.18},{"l":3,"x":-0.63,"y":0.09},{"l":3,"x":-0.25,"y":0.35},{"l":3,"x":0.06,"y":0.42},{"l":3,"x":0.41,"y":0.27},{"l":3,"x":0.79,"y":-0.12},{"l":3,"x":1.21,"y":-0.43},{"l":3,"x":1.76,"y":0.28},{"l":3,"x":2.1,"y":-0.38},{"l":3,"x":3.14,"y":0.13},
{"l":4,"x":-3.14,"y":0.38},{"l":4,"x":-2.43,"y":-0.19},{"l":4,"x":-1.84,"y":0.36},{"l":4,"x":-1.44,"y":-0.13},{"l":4,"x":-1.04,"y":-0.01},{"l":4,"x":-0.63,"y":0.27},{"l":4,"x":-0.25,"y":0.52},{"l":4,"x":0.06,"y":0.59},{"l":4,"x":0.41,"y":0.44},{"l":4,"x":0.79,"y":0.06},{"l":4,"x":1.21,"y":-0.27},{"l":4,"x":1.76,"y":0.28},{"l":4,"x":2.1,"y":-0.21},{"l":4,"x":3.14,"y":0.3},
{"l":5,"x":-3.14,"y":0.55},{"l":5,"x":-2.43,"y":-0.04},{"l":5,"x":-1.84,"y":0.36},{"l":5,"x":-1.44,"y":0.04},{"l":5,"x":-1.04,"y":0.17},{"l":5,"x":-0.63,"y":0.44},{"l":5,"x":-0.25,"y":0.7},{"l":5,"x":0.06,"y":0.77},{"l":5,"x":0.41,"y":0.62},{"l":5,"x":0.79,"y":0.23},{"l":5,"x":1.21,"y":-0.12},{"l":5,"x":1.76,"y":0.28},{"l":5,"x":2.1,"y":-0.04},{"l":5,"x":3.14,"y":0.47},
{"l":6,"x":-3.14,"y":0.72},{"l":6,"x":-2.43,"y":0.11},{"l":6,"x":-1.84,"y":0.36},{"l":6,"x":-1.44,"y":0.22},{"l":6,"x":-1.04,"y":0.34},{"l":6,"x":-0.63,"y":0.62},{"l":6,"x":-0.25,"y":0.87},{"l":6,"x":0.06,"y":0.94},{"l":6,"x":0.41,"y":0.79},{"l":6,"x":0.79,"y":0.41},{"l":6,"x":1.21,"y":0.03},{"l":6,"x":1.76,"y":0.28},{"l":6,"x":2.1,"y":0.14},{"l":6,"x":3.14,"y":0.64},
{"l":7,"x":-3.14,"y":0.89},{"l":7,"x":-2.43,"y":0.27},{"l":7,"x":-1.84,"y":0.36},{"l":7,"x":-1.44,"y":0.39},{"l":7,"x":-1.04,"y":0.51},{"l":7,"x":-0.63,"y":0.79},{"l":7,"x":-0.25,"y":1.05},{"l":7,"x":0.06,"y":1.12},{"l":7,"x":0.41,"y":0.97},{"l":7,"x":0.79,"y":0.59},{"l":7,"x":1.21,"y":0.19},{"l":7,"x":1.76,"y":0.28},{"l":7,"x":2.1,"y":0.31},{"l":7,"x":3.14,"y":0.81},
{"l":8,"x":-3.14,"y":1.07},{"l":8,"x":-2.43,"y":0.42},{"l":8,"x":-1.84,"y":0.36},{"l":8,"x":-1.44,"y":0.56},{"l":8,"x":-1.04,"y":0.68},{"l":8,"x":-0.63,"y":0.97},{"l":8,"x":-0.25,"y":1.22},{"l":8,"x":0.06,"y":1.29},{"l":8,"x":0.41,"y":1.14},{"l":8,"x":0.79,"y":0.76},{"l":8,"x":1.21,"y":0.34},{"l":8,"x":1.76,"y":0.28},{"l":8,"x":2.1,"y":0.48},{"l":8,"x":3.14,"y":0.99},
{"l":21,"x":-3.14,"y":-1.79},{"l":21,"x":-2.43,"y":-1.24},{"l":21,"x":-1.73,"y":-2.15},{"l":21,"x":-1.23,"y":-1.7},{"l":21,"x":-0.82,"y":-1.8},{"l":21,"x":-0.41,"y":-2.0},{"l":21,"x":0,"y":-2.1},{"l":21,"x":0.41,"y":-1.87},{"l":21,"x":0.82,"y":-1.45},{"l":21,"x":1.21,"y":-1.24},{"l":21,"x":1.88,"y":-2.13},{"l":21,"x":2.39,"y":-1.68},{"l":21,"x":3.14,"y":-1.92},
{"l":22,"x":-3.14,"y":-1.94},{"l":22,"x":-2.43,"y":-1.32},{"l":22,"x":-1.73,"y":-2.29},{"l":22,"x":-1.23,"y":-1.75},{"l":22,"x":-0.82,"y":-1.93},{"l":22,"x":-0.41,"y":-2.27},{"l":22,"x":0,"y":-2.44},{"l":22,"x":0.41,"y":-2.15},{"l":22,"x":0.82,"y":-1.59},{"l":22,"x":1.21,"y":-1.32},{"l":22,"x":1.88,"y":-2.27},{"l":22,"x":2.39,"y":-1.73},{"l":22,"x":3.14,"y":-2.08},
{"l":23,"x":-3.14,"y":-2.12},{"l":23,"x":-2.43,"y":-1.43},{"l":23,"x":-1.73,"y":-2.42},{"l":23,"x":-1.23,"y":-1.83},{"l":23,"x":-0.82,"y":-2.02},{"l":23,"x":-0.41,"y":-2.39},{"l":23,"x":0,"y":-2.57},{"l":23,"x":0.41,"y":-2.28},{"l":23,"x":0.82,"y":-1.7},{"l":23,"x":1.21,"y":-1.43},{"l":23,"x":1.88,"y":-2.4},{"l":23,"x":2.39,"y":-1.81},{"l":23,"x":3.14,"y":-2.23},
{"l":24,"x":-3.14,"y":-2.29},{"l":24,"x":-2.43,"y":-1.62},{"l":24,"x":-1.73,"y":-2.42},{"l":24,"x":-1.23,"y":-1.96},{"l":24,"x":-0.82,"y":-2.14},{"l":24,"x":-0.41,"y":-2.51},{"l":24,"x":0,"y":-2.7},{"l":24,"x":0.41,"y":-2.42},{"l":24,"x":0.82,"y":-1.88},{"l":24,"x":1.21,"y":-1.62},{"l":24,"x":1.88,"y":-2.4},{"l":24,"x":2.39,"y":-1.94},{"l":24,"x":3.14,"y":-2.38},
{"l":25,"x":-3.14,"y":-2.47},{"l":25,"x":-2.43,"y":-1.8},{"l":25,"x":-1.73,"y":-2.42},{"l":25,"x":-1.23,"y":-2.08},{"l":25,"x":-0.82,"y":-2.27},{"l":25,"x":-0.41,"y":-2.64},{"l":25,"x":0,"y":-2.82},{"l":25,"x":0.41,"y":-2.56},{"l":25,"x":0.82,"y":-2.05},{"l":25,"x":1.21,"y":-1.8},{"l":25,"x":1.88,"y":-2.4},{"l":25,"x":2.39,"y":-2.06},{"l":25,"x":3.14,"y":-2.53},
{"l":26,"x":-3.14,"y":-2.65},{"l":26,"x":-2.43,"y":-1.99},{"l":26,"x":-1.73,"y":-2.42},{"l":26,"x":-1.23,"y":-2.21},{"l":26,"x":-0.82,"y":-2.39},{"l":26,"x":-0.41,"y":-2.76},{"l":26,"x":0,"y":-2.95},{"l":26,"x":0.41,"y":-2.7},{"l":26,"x":0.82,"y":-2.22},{"l":26,"x":1.21,"y":-1.99},{"l":26,"x":1.88,"y":-2.4},{"l":26,"x":2.39,"y":-2.19},{"l":26,"x":3.14,"y":-2.69},
{"l":27,"x":-3.14,"y":-2.83},{"l":27,"x":-2.43,"y":-2.18},{"l":27,"x":-1.73,"y":-2.42},{"l":27,"x":-1.23,"y":-2.33},{"l":27,"x":-0.82,"y":-2.52},{"l":27,"x":-0.41,"y":-2.89},{"l":27,"x":0,"y":-3.08},{"l":27,"x":0.41,"y":-2.84},{"l":27,"x":0.82,"y":-2.39},{"l":27,"x":1.21,"y":-2.18},{"l":27,"x":1.88,"y":-2.4},{"l":27,"x":2.39,"y":-2.31},{"l":27,"x":3.14,"y":-2.84},
{"l":28,"x":-3.14,"y":-3.01},{"l":28,"x":-2.43,"y":-2.36},{"l":28,"x":-1.73,"y":-2.42},{"l":28,"x":-1.23,"y":-2.46},{"l":28,"x":-0.82,"y":-2.65},{"l":28,"x":-0.41,"y":-3.01},{"l":28,"x":0,"y":-3.2},{"l":28,"x":0.41,"y":-2.98},{"l":28,"x":0.82,"y":-2.56},{"l":28,"x":1.21,"y":-2.36},{"l":28,"x":1.88,"y":-2.4},{"l":28,"x":2.39,"y":-2.44},{"l":28,"x":3.14,"y":-2.99}
],
"c3":[
{"l":31,"x":-2.44,"y":1.53},{"l":31,"x":-1.84,"y":0.36},{"l":31,"x":-1.36,"y":1.53},
{"l":32,"x":-2.2,"y":1.53},{"l":32,"x":-1.84,"y":0.36},{"l":32,"x":-1.55,"y":1.53},
{"l":33,"x":-2.02,"y":1.53},{"l":33,"x":-1.84,"y":0.36},{"l":33,"x":-1.7,"y":1.53},
{"l":34,"x":1.16,"y":1.53},{"l":34,"x":1.76,"y":0.28},{"l":34,"x":2.24,"y":1.53},
{"l":35,"x":1.4,"y":1.53},{"l":35,"x":1.76,"y":0.28},{"l":35,"x":2.05,"y":1.53},
{"l":36,"x":1.58,"y":1.53},{"l":36,"x":1.76,"y":0.28},{"l":36,"x":1.9,"y":1.53},
{"l":37,"x":-2.09,"y":-3.11},{"l":37,"x":-1.73,"y":-2.42},{"l":37,"x":-1.44,"y":-3.11},
{"l":38,"x":-1.93,"y":-3.11},{"l":38,"x":-1.73,"y":-2.42},{"l":38,"x":-1.57,"y":-3.11},
{"l":39,"x":-1.83,"y":-3.11},{"l":39,"x":-1.73,"y":-2.42},{"l":39,"x":-1.65,"y":-3.11},
{"l":40,"x":1.52,"y":-3.11},{"l":40,"x":1.88,"y":-2.4},{"l":40,"x":2.17,"y":-3.11},
{"l":41,"x":1.68,"y":-3.11},{"l":41,"x":1.88,"y":-2.4},{"l":41,"x":2.04,"y":-3.11},
{"l":42,"x":1.78,"y":-3.11},{"l":42,"x":1.88,"y":-2.4},{"l":42,"x":1.96,"y":-3.11},
{"l":51,"x":-2.43,"y":-1.24},{"l":51,"x":-1.41,"y":-0.6},{"l":51,"x":-1.13,"y":-0.67},
{"l":52,"x":1.21,"y":-1.24},{"l":52,"x":2.2,"y":-0.59},{"l":52,"x":2.5,"y":-0.66}
],
"d1":[
{"l":11,"x":-3.14,"y":-1.154},{"l":11,"x":-2.36,"y":-1.083},{"l":11,"x":-1.57,"y":-1.006},{"l":11,"x":-0.79,"y":-0.995},{"l":11,"x":-0.38,"y":-1.069},{"l":11,"x":0,"y":-1.16},{"l":11,"x":0.38,"y":-1.149},{"l":11,"x":0.79,"y":-1.112},{"l":11,"x":1.57,"y":-1.026},{"l":11,"x":2.36,"y":-0.989},{"l":11,"x":3.14,"y":-0.998},
{"l":12,"x":-3.14,"y":-1.175},{"l":12,"x":-2.36,"y":-1.118},{"l":12,"x":-1.57,"y":-1.047},{"l":12,"x":-0.79,"y":-1.029},{"l":12,"x":-0.38,"y":-1.086},{"l":12,"x":0,"y":-1.16},{"l":12,"x":0.38,"y":-1.159},{"l":12,"x":0.79,"y":-1.136},{"l":12,"x":1.57,"y":-1.066},{"l":12,"x":2.36,"y":-1.026},{"l":12,"x":3.14,"y":-1.019},
{"l":13,"x":-3.14,"y":-1.195},{"l":13,"x":-2.36,"y":-1.152},{"l":13,"x":-1.57,"y":-1.088},{"l":13,"x":-0.79,"y":-1.062},{"l":13,"x":-0.38,"y":-1.104},{"l":13,"x":0,"y":-1.16},{"l":13,"x":0.38,"y":-1.17},{"l":13,"x":0.79,"y":-1.159},{"l":13,"x":1.57,"y":-1.106},{"l":13,"x":2.36,"y":-1.064},{"l":13,"x":3.14,"y":-1.039},
{"l":14,"x":-3.14,"y":-1.216},{"l":14,"x":-2.36,"y":-1.187},{"l":14,"x":-1.57,"y":-1.129},{"l":14,"x":-0.79,"y":-1.096},{"l":14,"x":-0.38,"y":-1.121},{"l":14,"x":0,"y":-1.16},{"l":14,"x":0.38,"y":-1.18},{"l":14,"x":0.79,"y":-1.183},{"l":14,"x":1.57,"y":-1.147},{"l":14,"x":2.36,"y":-1.101},{"l":14,"x":3.14,"y":-1.06},
{"l":15,"x":-3.14,"y":-1.236},{"l":15,"x":-2.36,"y":-1.221},{"l":15,"x":-1.57,"y":-1.17},{"l":15,"x":-0.79,"y":-1.129},{"l":15,"x":-0.38,"y":-1.139},{"l":15,"x":0,"y":-1.16},{"l":15,"x":0.38,"y":-1.19},{"l":15,"x":0.79,"y":-1.207},{"l":15,"x":1.57,"y":-1.187},{"l":15,"x":2.36,"y":-1.138},{"l":15,"x":3.14,"y":-1.08},
{"l":16,"x":-3.14,"y":-1.257},{"l":16,"x":-2.36,"y":-1.256},{"l":16,"x":-1.57,"y":-1.211},{"l":16,"x":-0.79,"y":-1.163},{"l":16,"x":-0.38,"y":-1.156},{"l":16,"x":0,"y":-1.16},{"l":16,"x":0.38,"y":-1.201},{"l":16,"x":0.79,"y":-1.231},{"l":16,"x":1.57,"y":-1.227},{"l":16,"x":2.36,"y":-1.176},{"l":16,"x":3.14,"y":-1.101},
{"l":17,"x":-3.14,"y":-1.277},{"l":17,"x":-2.36,"y":-1.29},{"l":17,"x":-1.57,"y":-1.252},{"l":17,"x":-0.79,"y":-1.197},{"l":17,"x":-0.38,"y":-1.173},{"l":17,"x":0,"y":-1.16},{"l":17,"x":0.38,"y":-1.211},{"l":17,"x":0.79,"y":-1.254},{"l":17,"x":1.57,"y":-1.267},{"l":17,"x":2.36,"y":-1.213},{"l":17,"x":3.14,"y":-1.121},
{"l":18,"x":-3.14,"y":-1.298},{"l":18,"x":-2.36,"y":-1.325},{"l":18,"x":-1.57,"y":-1.293},{"l":18,"x":-0.79,"y":-1.23},{"l":18,"x":-0.38,"y":-1.191},{"l":18,"x":0,"y":-1.16},{"l":18,"x":0.38,"y":-1.221},{"l":18,"x":0.79,"y":-1.278},{"l":18,"x":1.57,"y":-1.307},{"l":18,"x":2.36,"y":-1.25},{"l":18,"x":3.14,"y":-1.142},
{"l":19,"x":-3.14,"y":-1.318},{"l":19,"x":-2.36,"y":-1.359},{"l":19,"x":-1.57,"y":-1.334},{"l":19,"x":-0.79,"y":-1.264},{"l":19,"x":-0.38,"y":-1.208},{"l":19,"x":0,"y":-1.16},{"l":19,"x":0.38,"y":-1.231},{"l":19,"x":0.79,"y":-1.302},{"l":19,"x":1.57,"y":-1.348},{"l":19,"x":2.36,"y":-1.287},{"l":19,"x":3.14,"y":-1.162},
{"l":20,"x":-3.14,"y":-1.339},{"l":20,"x":-2.36,"y":-1.394},{"l":20,"x":-1.57,"y":-1.375},{"l":20,"x":-0.79,"y":-1.297},{"l":20,"x":-0.38,"y":-1.226},{"l":20,"x":0,"y":-1.16},{"l":20,"x":0.38,"y":-1.242},{"l":20,"x":0.79,"y":-1.325},{"l":20,"x":1.57,"y":-1.388},{"l":20,"x":2.36,"y":-1.325},{"l":20,"x":3.14,"y":-1.183}
],
"d2":[
{"l":1,"x":-3.14,"y":-0.65},{"l":1,"x":-2.43,"y":-0.95},{"l":1,"x":-1.84,"y":-0.69},{"l":1,"x":-1.44,"y":-0.93},{"l":1,"x":-1.04,"y":-0.86},{"l":1,"x":-0.63,"y":-0.7},{"l":1,"x":-0.25,"y":-0.55},{"l":1,"x":0.06,"y":-0.51},{"l":1,"x":0.41,"y":-0.6},{"l":1,"x":0.79,"y":-0.82},{"l":1,"x":1.21,"y":-0.96},{"l":1,"x":1.76,"y":-0.7},{"l":1,"x":2.1,"y":-0.94},{"l":1,"x":3.14,"y":-0.66},
{"l":2,"x":-3.14,"y":-0.55},{"l":2,"x":-2.43,"y":-0.88},{"l":2,"x":-1.84,"y":-0.55},{"l":2,"x":-1.44,"y":-0.85},{"l":2,"x":-1.04,"y":-0.77},{"l":2,"x":-0.63,"y":-0.58},{"l":2,"x":-0.25,"y":-0.4},{"l":2,"x":0.06,"y":-0.36},{"l":2,"x":0.41,"y":-0.46},{"l":2,"x":0.79,"y":-0.72},{"l":2,"x":1.21,"y":-0.89},{"l":2,"x":1.76,"y":-0.56},{"l":2,"x":2.1,"y":-0.86},{"l":2,"x":3.14,"y":-0.56},
{"l":3,"x":-3.14,"y":-0.43},{"l":3,"x":-2.43,"y":-0.8},{"l":3,"x":-1.84,"y":-0.33},{"l":3,"x":-1.44,"y":-0.77},{"l":3,"x":-1.04,"y":-0.69},{"l":3,"x":-0.63,"y":-0.51},{"l":3,"x":-0.25,"y":-0.34},{"l":3,"x":0.06,"y":-0.29},{"l":3,"x":0.41,"y":-0.39},{"l":3,"x":0.79,"y":-0.65},{"l":3,"x":1.21,"y":-0.81},{"l":3,"x":1.76,"y":-0.34},{"l":3,"x":2.1,"y":-0.78},{"l":3,"x":3.14,"y":-0.44},
{"l":4,"x":-3.14,"y":-0.32},{"l":4,"x":-2.43,"y":-0.7},{"l":4,"x":-1.84,"y":-0.33},{"l":4,"x":-1.44,"y":-0.66},{"l":4,"x":-1.04,"y":-0.58},{"l":4,"x":-0.63,"y":-0.39},{"l":4,"x":-0.25,"y":-0.22},{"l":4,"x":0.06,"y":-0.17},{"l":4,"x":0.41,"y":-0.28},{"l":4,"x":0.79,"y":-0.53},{"l":4,"x":1.21,"y":-0.71},{"l":4,"x":1.76,"y":-0.34},{"l":4,"x":2.1,"y":-0.67},{"l":4,"x":3.14,"y":-0.33},
{"l":5,"x":-3.14,"y":-0.2},{"l":5,"x":-2.43,"y":-0.6},{"l":5,"x":-1.84,"y":-0.33},{"l":5,"x":-1.44,"y":-0.54},{"l":5,"x":-1.04,"y":-0.46},{"l":5,"x":-0.63,"y":-0.27},{"l":5,"x":-0.25,"y":-0.11},{"l":5,"x":0.06,"y":-0.06},{"l":5,"x":0.41,"y":-0.16},{"l":5,"x":0.79,"y":-0.41},{"l":5,"x":1.21,"y":-0.61},{"l":5,"x":1.76,"y":-0.34},{"l":5,"x":2.1,"y":-0.55},{"l":5,"x":3.14,"y":-0.21},
{"l":6,"x":-3.14,"y":-0.09},{"l":6,"x":-2.43,"y":-0.5},{"l":6,"x":-1.84,"y":-0.33},{"l":6,"x":-1.44,"y":-0.43},{"l":6,"x":-1.04,"y":-0.35},{"l":6,"x":-0.63,"y":-0.16},{"l":6,"x":-0.25,"y":0.01},{"l":6,"x":0.06,"y":0.06},{"l":6,"x":0.41,"y":-0.04},{"l":6,"x":0.79,"y":-0.3},{"l":6,"x":1.21,"y":-0.51},{"l":6,"x":1.76,"y":-0.34},{"l":6,"x":2.1,"y":-0.44},{"l":6,"x":3.14,"y":-0.1},
{"l":7,"x":-3.14,"y":0.03},{"l":7,"x":-2.43,"y":-0.39},{"l":7,"x":-1.84,"y":-0.33},{"l":7,"x":-1.44,"y":-0.31},{"l":7,"x":-1.04,"y":-0.23},{"l":7,"x":-0.63,"y":-0.04},{"l":7,"x":-0.25,"y":0.13},{"l":7,"x":0.06,"y":0.18},{"l":7,"x":0.41,"y":0.08},{"l":7,"x":0.79,"y":-0.18},{"l":7,"x":1.21,"y":-0.4},{"l":7,"x":1.76,"y":-0.34},{"l":7,"x":2.1,"y":-0.32},{"l":7,"x":3.14,"y":0.02},
{"l":8,"x":-3.14,"y":0.14},{"l":8,"x":-2.43,"y":-0.29},{"l":8,"x":-1.84,"y":-0.33},{"l":8,"x":-1.44,"y":-0.2},{"l":8,"x":-1.04,"y":-0.12},{"l":8,"x":-0.63,"y":0.08},{"l":8,"x":-0.25,"y":0.25},{"l":8,"x":0.06,"y":0.3},{"l":8,"x":0.41,"y":0.19},{"l":8,"x":0.79,"y":-0.06},{"l":8,"x":1.21,"y":-0.3},{"l":8,"x":1.76,"y":-0.34},{"l":8,"x":2.1,"y":-0.21},{"l":8,"x":3.14,"y":0.13},
{"l":21,"x":-3.14,"y":-1.84},{"l":21,"x":-2.43,"y":-1.42},{"l":21,"x":-1.73,"y":-2.12},{"l":21,"x":-1.23,"y":-1.77},{"l":21,"x":-0.82,"y":-1.84},{"l":21,"x":-0.41,"y":-2.0},{"l":21,"x":0,"y":-2.07},{"l":21,"x":0.41,"y":-1.9},{"l":21,"x":0.82,"y":-1.58},{"l":21,"x":1.21,"y":-1.42},{"l":21,"x":1.88,"y":-2.11},{"l":21,"x":2.39,"y":-1.76},{"l":21,"x":3.14,"y":-1.95},
{"l":22,"x":-3.14,"y":-1.96},{"l":22,"x":-2.43,"y":-1.48},{"l":22,"x":-1.73,"y":-2.22},{"l":22,"x":-1.23,"y":-1.81},{"l":22,"x":-0.82,"y":-1.94},{"l":22,"x":-0.41,"y":-2.2},{"l":22,"x":0,"y":-2.34},{"l":22,"x":0.41,"y":-2.11},{"l":22,"x":0.82,"y":-1.68},{"l":22,"x":1.21,"y":-1.48},{"l":22,"x":1.88,"y":-2.21},{"l":22,"x":2.39,"y":-1.8},{"l":22,"x":3.14,"y":-2.06},
{"l":23,"x":-3.14,"y":-2.09},{"l":23,"x":-2.43,"y":-1.56},{"l":23,"x":-1.73,"y":-2.32},{"l":23,"x":-1.23,"y":-1.87},{"l":23,"x":-0.82,"y":-2.01},{"l":23,"x":-0.41,"y":-2.29},{"l":23,"x":0,"y":-2.44},{"l":23,"x":0.41,"y":-2.21},{"l":23,"x":0.82,"y":-1.77},{"l":23,"x":1.21,"y":-1.56},{"l":23,"x":1.88,"y":-2.31},{"l":23,"x":2.39,"y":-1.86},{"l":23,"x":3.14,"y":-2.18},
{"l":24,"x":-3.14,"y":-2.22},{"l":24,"x":-2.43,"y":-1.71},{"l":24,"x":-1.73,"y":-2.32},{"l":24,"x":-1.23,"y":-1.97},{"l":24,"x":-0.82,"y":-2.11},{"l":24,"x":-0.41,"y":-2.39},{"l":24,"x":0,"y":-2.53},{"l":24,"x":0.41,"y":-2.32},{"l":24,"x":0.82,"y":-1.9},{"l":24,"x":1.21,"y":-1.71},{"l":24,"x":1.88,"y":-2.31},{"l":24,"x":2.39,"y":-1.96},{"l":24,"x":3.14,"y":-2.3},
{"l":25,"x":-3.14,"y":-2.36},{"l":25,"x":-2.43,"y":-1.85},{"l":25,"x":-1.73,"y":-2.32},{"l":25,"x":-1.23,"y":-2.06},{"l":25,"x":-0.82,"y":-2.2},{"l":25,"x":-0.41,"y":-2.49},{"l":25,"x":0,"y":-2.63},{"l":25,"x":0.41,"y":-2.43},{"l":25,"x":0.82,"y":-2.04},{"l":25,"x":1.21,"y":-1.85},{"l":25,"x":1.88,"y":-2.31},{"l":25,"x":2.39,"y":-2.05},{"l":25,"x":3.14,"y":-2.41},
{"l":26,"x":-3.14,"y":-2.5},{"l":26,"x":-2.43,"y":-1.99},{"l":26,"x":-1.73,"y":-2.32},{"l":26,"x":-1.23,"y":-2.16},{"l":26,"x":-0.82,"y":-2.3},{"l":26,"x":-0.41,"y":-2.58},{"l":26,"x":0,"y":-2.72},{"l":26,"x":0.41,"y":-2.53},{"l":26,"x":0.82,"y":-2.17},{"l":26,"x":1.21,"y":-1.99},{"l":26,"x":1.88,"y":-2.31},{"l":26,"x":2.39,"y":-2.15},{"l":26,"x":3.14,"y":-2.53},
{"l":27,"x":-3.14,"y":-2.63},{"l":27,"x":-2.43,"y":-2.13},{"l":27,"x":-1.73,"y":-2.32},{"l":27,"x":-1.23,"y":-2.25},{"l":27,"x":-0.82,"y":-2.4},{"l":27,"x":-0.41,"y":-2.68},{"l":27,"x":0,"y":-2.82},{"l":27,"x":0.41,"y":-2.64},{"l":27,"x":0.82,"y":-2.3},{"l":27,"x":1.21,"y":-2.13},{"l":27,"x":1.88,"y":-2.31},{"l":27,"x":2.39,"y":-2.24},{"l":27,"x":3.14,"y":-2.65},
{"l":28,"x":-3.14,"y":-2.77},{"l":28,"x":-2.43,"y":-2.28},{"l":28,"x":-1.73,"y":-2.32},{"l":28,"x":-1.23,"y":-2.35},{"l":28,"x":-0.82,"y":-2.49},{"l":28,"x":-0.41,"y":-2.77},{"l":28,"x":0,"y":-2.92},{"l":28,"x":0.41,"y":-2.75},{"l":28,"x":0.82,"y":-2.43},{"l":28,"x":1.21,"y":-2.28},{"l":28,"x":1.88,"y":-2.31},{"l":28,"x":2.39,"y":-2.34},{"l":28,"x":3.14,"y":-2.76}
],
"d3":[
{"l":31,"x":-2.12,"y":0},{"l":31,"x":-1.84,"y":-0.33},{"l":31,"x":-1.62,"y":0},
{"l":32,"x":-2.01,"y":0},{"l":32,"x":-1.84,"y":-0.33},{"l":32,"x":-1.7,"y":0},
{"l":33,"x":-1.92,"y":0},{"l":33,"x":-1.84,"y":-0.33},{"l":33,"x":-1.78,"y":0},
{"l":34,"x":1.48,"y":0},{"l":34,"x":1.76,"y":-0.34},{"l":34,"x":1.98,"y":0},
{"l":35,"x":1.59,"y":0},{"l":35,"x":1.76,"y":-0.34},{"l":35,"x":1.9,"y":0},
{"l":36,"x":1.68,"y":0},{"l":36,"x":1.76,"y":-0.34},{"l":36,"x":1.82,"y":0},
{"l":37,"x":-2.06,"y":-2.69},{"l":37,"x":-1.73,"y":-2.32},{"l":37,"x":-1.47,"y":-2.69},
{"l":38,"x":-1.93,"y":-2.69},{"l":38,"x":-1.73,"y":-2.32},{"l":38,"x":-1.57,"y":-2.69},
{"l":39,"x":-1.83,"y":-2.69},{"l":39,"x":-1.73,"y":-2.32},{"l":39,"x":-1.65,"y":-2.69},
{"l":40,"x":1.55,"y":-2.69},{"l":40,"x":1.88,"y":-2.31},{"l":40,"x":2.14,"y":-2.69},
{"l":41,"x":1.68,"y":-2.69},{"l":41,"x":1.88,"y":-2.31},{"l":41,"x":2.04,"y":-2.69},
{"l":42,"x":1.78,"y":-2.69},{"l":42,"x":1.88,"y":-2.31},{"l":42,"x":1.96,"y":-2.69},
{"l":51,"x":-2.43,"y":-1.42},{"l":51,"x":-1.41,"y":-0.95},{"l":51,"x":-1.13,"y":-1.0},
{"l":52,"x":1.21,"y":-1.42},{"l":52,"x":2.2,"y":-0.94},{"l":52,"x":2.5,"y":-0.99}
],
"e1":[
{"l":11,"x":-3.14,"y":-1.482},{"l":11,"x":-2.36,"y":-1.433},{"l":11,"x":-1.57,"y":-1.38},{"l":11,"x":-0.79,"y":-1.372},{"l":11,"x":-0.38,"y":-1.423},{"l":11,"x":0,"y":-1.486},{"l":11,"x":0.38,"y":-1.478},{"l":11,"x":0.79,"y":-1.453},{"l":11,"x":1.57,"y":-1.393},{"l":11,"x":2.36,"y":-1.368},{"l":11,"x":3.14,"y":-1.374},
{"l":12,"x":-3.14,"y":-1.496},{"l":12,"x":-2.36,"y":-1.457},{"l":12,"x":-1.57,"y":-1.408},{"l":12,"x":-0.79,"y":-1.395},{"l":12,"x":-0.38,"y":-1.435},{"l":12,"x":0,"y":-1.486},{"l":12,"x":0.38,"y":-1.485},{"l":12,"x":0.79,"y":-1.469},{"l":12,"x":1.57,"y":-1.421},{"l":12,"x":2.36,"y":-1.394},{"l":12,"x":3.14,"y":-1.388},
{"l":13,"x":-3.14,"y":-1.51},{"l":13,"x":-2.36,"y":-1.481},{"l":13,"x":-1.57,"y":-1.437},{"l":13,"x":-0.79,"y":-1.418},{"l":13,"x":-0.38,"y":-1.447},{"l":13,"x":0,"y":-1.486},{"l":13,"x":0.38,"y":-1.492},{"l":13,"x":0.79,"y":-1.486},{"l":13,"x":1.57,"y":-1.449},{"l":13,"x":2.36,"y":-1.42},{"l":13,"x":3.14,"y":-1.402},
{"l":14,"x":-3.14,"y":-1.525},{"l":14,"x":-2.36,"y":-1.504},{"l":14,"x":-1.57,"y":-1.465},{"l":14,"x":-0.79,"y":-1.442},{"l":14,"x":-0.38,"y":-1.459},{"l":14,"x":0,"y":-1.486},{"l":14,"x":0.38,"y":-1.499},{"l":14,"x":0.79,"y":-1.502},{"l":14,"x":1.57,"y":-1.476},{"l":14,"x":2.36,"y":-1.445},{"l":14,"x":3.14,"y":-1.417},
{"l":15,"x":-3.14,"y":-1.539},{"l":15,"x":-2.36,"y":-1.528},{"l":15,"x":-1.57,"y":-1.494},{"l":15,"x":-0.79,"y":-1.465},{"l":15,"x":-0.38,"y":-1.471},{"l":15,"x":0,"y":-1.486},{"l":15,"x":0.38,"y":-1.506},{"l":15,"x":0.79,"y":-1.519},{"l":15,"x":1.57,"y":-1.504},{"l":15,"x":2.36,"y":-1.471},{"l":15,"x":3.14,"y":-1.431},
{"l":16,"x":-3.14,"y":-1.553},{"l":16,"x":-2.36,"y":-1.552},{"l":16,"x":-1.57,"y":-1.522},{"l":16,"x":-0.79,"y":-1.488},{"l":16,"x":-0.38,"y":-1.483},{"l":16,"x":0,"y":-1.486},{"l":16,"x":0.38,"y":-1.514},{"l":16,"x":0.79,"y":-1.535},{"l":16,"x":1.57,"y":-1.532},{"l":16,"x":2.36,"y":-1.497},{"l":16,"x":3.14,"y":-1.445},
{"l":17,"x":-3.14,"y":-1.567},{"l":17,"x":-2.36,"y":-1.576},{"l":17,"x":-1.57,"y":-1.55},{"l":17,"x":-0.79,"y":-1.511},{"l":17,"x":-0.38,"y":-1.495},{"l":17,"x":0,"y":-1.486},{"l":17,"x":0.38,"y":-1.521},{"l":17,"x":0.79,"y":-1.551},{"l":17,"x":1.57,"y":-1.56},{"l":17,"x":2.36,"y":-1.523},{"l":17,"x":3.14,"y":-1.459},
{"l":18,"x":-3.14,"y":-1.581},{"l":18,"x":-2.36,"y":-1.6},{"l":18,"x":-1.57,"y":-1.579},{"l":18,"x":-0.79,"y":-1.534},{"l":18,"x":-0.38,"y":-1.507},{"l":18,"x":0,"y":-1.486},{"l":18,"x":0.38,"y":-1.528},{"l":18,"x":0.79,"y":-1.568},{"l":18,"x":1.57,"y":-1.588},{"l":18,"x":2.36,"y":-1.549},{"l":18,"x":3.14,"y":-1.473},
{"l":19,"x":-3.14,"y":-1.596},{"l":19,"x":-2.36,"y":-1.623},{"l":19,"x":-1.57,"y":-1.607},{"l":19,"x":-0.79,"y":-1.558},{"l":19,"x":-0.38,"y":-1.519},{"l":19,"x":0,"y":-1.486},{"l":19,"x":0.38,"y":-1.535},{"l":19,"x":0.79,"y":-1.584},{"l":19,"x":1.57,"y":-1.615},{"l":19,"x":2.36,"y":-1.574},{"l":19,"x":3.14,"y":-1.488},
{"l":20,"x":-3.14,"y":-1.61},{"l":20,"x":-2.36,"y":-1.647},{"l":20,"x":-1.57,"y":-1.636},{"l":20,"x":-0.79,"y":-1.581},{"l":20,"x":-0.38,"y":-1.531},{"l":20,"x":0,"y":-1.486},{"l":20,"x":0.38,"y":-1.542},{"l":20,"x":0.79,"y":-1.601},{"l":20,"x":1.57,"y":-1.643},{"l":20,"x":2.36,"y":-1.6},{"l":20,"x":3.14,"y":-1.502}
],
"e2":[
{"l":1,"x":-3.14,"y":-1.15},{"l":1,"x":-2.43,"y":-1.38},{"l":1,"x":-1.84,"y":-1.18},{"l":1,"x":-1.44,"y":-1.36},{"l":1,"x":-1.04,"y":-1.31},{"l":1,"x":-0.63,"y":-1.19},{"l":1,"x":-0.25,"y":-1.08},{"l":1,"x":0.06,"y":-1.05},{"l":1,"x":0.41,"y":-1.11},{"l":1,"x":0.79,"y":-1.28},{"l":1,"x":1.21,"y":-1.4},{"l":1,"x":1.76,"y":-1.2},{"l":1,"x":2.1,"y":-1.38},{"l":1,"x":3.14,"y":-1.17},
{"l":2,"x":-3.14,"y":-1.07},{"l":2,"x":-2.43,"y":-1.33},{"l":2,"x":-1.84,"y":-1.07},{"l":2,"x":-1.44,"y":-1.31},{"l":2,"x":-1.04,"y":-1.24},{"l":2,"x":-0.63,"y":-1.1},{"l":2,"x":-0.25,"y":-0.97},{"l":2,"x":0.06,"y":-0.93},{"l":2,"x":0.41,"y":-1.01},{"l":2,"x":0.79,"y":-1.21},{"l":2,"x":1.21,"y":-1.35},{"l":2,"x":1.76,"y":-1.09},{"l":2,"x":2.1,"y":-1.33},{"l":2,"x":3.14,"y":-1.09},
{"l":3,"x":-3.14,"y":-0.99},{"l":3,"x":-2.43,"y":-1.27},{"l":3,"x":-1.84,"y":-0.91},{"l":3,"x":-1.44,"y":-1.24},{"l":3,"x":-1.04,"y":-1.18},{"l":3,"x":-0.63,"y":-1.05},{"l":3,"x":-0.25,"y":-0.92},{"l":3,"x":0.06,"y":-0.88},{"l":3,"x":0.41,"y":-0.96},{"l":3,"x":0.79,"y":-1.15},{"l":3,"x":1.21,"y":-1.29},{"l":3,"x":1.76,"y":-0.93},{"l":3,"x":2.1,"y":-1.26},{"l":3,"x":3.14,"y":-1.01},
{"l":4,"x":-3.14,"y":-0.9},{"l":4,"x":-2.43,"y":-1.19},{"l":4,"x":-1.84,"y":-0.91},{"l":4,"x":-1.44,"y":-1.16},{"l":4,"x":-1.04,"y":-1.1},{"l":4,"x":-0.63,"y":-0.96},{"l":4,"x":-0.25,"y":-0.83},{"l":4,"x":0.06,"y":-0.79},{"l":4,"x":0.41,"y":-0.87},{"l":4,"x":0.79,"y":-1.06},{"l":4,"x":1.21,"y":-1.21},{"l":4,"x":1.76,"y":-0.93},{"l":4,"x":2.1,"y":-1.18},{"l":4,"x":3.14,"y":-0.92},
{"l":5,"x":-3.14,"y":-0.81},{"l":5,"x":-2.43,"y":-1.11},{"l":5,"x":-1.84,"y":-0.91},{"l":5,"x":-1.44,"y":-1.07},{"l":5,"x":-1.04,"y":-1.01},{"l":5,"x":-0.63,"y":-0.87},{"l":5,"x":-0.25,"y":-0.74},{"l":5,"x":0.06,"y":-0.7},{"l":5,"x":0.41,"y":-0.78},{"l":5,"x":0.79,"y":-0.97},{"l":5,"x":1.21,"y":-1.13},{"l":5,"x":1.76,"y":-0.93},{"l":5,"x":2.1,"y":-1.09},{"l":5,"x":3.14,"y":-0.83},
{"l":6,"x":-3.14,"y":-0.73},{"l":6,"x":-2.43,"y":-1.04},{"l":6,"x":-1.84,"y":-0.91},{"l":6,"x":-1.44,"y":-0.98},{"l":6,"x":-1.04,"y":-0.92},{"l":6,"x":-0.63,"y":-0.78},{"l":6,"x":-0.25,"y":-0.65},{"l":6,"x":0.06,"y":-0.62},{"l":6,"x":0.41,"y":-0.69},{"l":6,"x":0.79,"y":-0.89},{"l":6,"x":1.21,"y":-1.06},{"l":6,"x":1.76,"y":-0.93},{"l":6,"x":2.1,"y":-1.0},{"l":6,"x":3.14,"y":-0.75},
{"l":7,"x":-3.14,"y":-0.64},{"l":7,"x":-2.43,"y":-0.96},{"l":7,"x":-1.84,"y":-0.91},{"l":7,"x":-1.44,"y":-0.9},{"l":7,"x":-1.04,"y":-0.84},{"l":7,"x":-0.63,"y":-0.69},{"l":7,"x":-0.25,"y":-0.56},{"l":7,"x":0.06,"y":-0.53},{"l":7,"x":0.41,"y":-0.6},{"l":7,"x":0.79,"y":-0.8},{"l":7,"x":1.21,"y":-0.98},{"l":7,"x":1.76,"y":-0.93},{"l":7,"x":2.1,"y":-0.92},{"l":7,"x":3.14,"y":-0.66},
{"l":8,"x":-3.14,"y":-0.55},{"l":8,"x":-2.43,"y":-0.88},{"l":8,"x":-1.84,"y":-0.91},{"l":8,"x":-1.44,"y":-0.81},{"l":8,"x":-1.04,"y":-0.75},{"l":8,"x":-0.63,"y":-0.6},{"l":8,"x":-0.25,"y":-0.47},{"l":8,"x":0.06,"y":-0.44},{"l":8,"x":0.41,"y":-0.51},{"l":8,"x":0.79,"y":-0.71},{"l":8,"x":1.21,"y":-0.9},{"l":8,"x":1.76,"y":-0.93},{"l":8,"x":2.1,"y":-0.83},{"l":8,"x":3.14,"y":-0.57},
{"l":21,"x":-3.14,"y":-1.98},{"l":21,"x":-2.43,"y":-1.66},{"l":21,"x":-1.73,"y":-2.19},{"l":21,"x":-1.23,"y":-1.93},{"l":21,"x":-0.82,"y":-1.99},{"l":21,"x":-0.41,"y":-2.1},{"l":21,"x":0,"y":-2.16},{"l":21,"x":0.41,"y":-2.03},{"l":21,"x":0.82,"y":-1.78},{"l":21,"x":1.21,"y":-1.66},{"l":21,"x":1.88,"y":-2.18},{"l":21,"x":2.39,"y":-1.91},{"l":21,"x":3.14,"y":-2.05},
{"l":22,"x":-3.14,"y":-2.07},{"l":22,"x":-2.43,"y":-1.71},{"l":22,"x":-1.73,"y":-2.27},{"l":22,"x":-1.23,"y":-1.96},{"l":22,"x":-0.82,"y":-2.06},{"l":22,"x":-0.41,"y":-2.26},{"l":22,"x":0,"y":-2.36},{"l":22,"x":0.41,"y":-2.19},{"l":22,"x":0.82,"y":-1.86},{"l":22,"x":1.21,"y":-1.71},{"l":22,"x":1.88,"y":-2.25},{"l":22,"x":2.39,"y":-1.94},{"l":22,"x":3.14,"y":-2.14},
{"l":23,"x":-3.14,"y":-2.17},{"l":23,"x":-2.43,"y":-1.77},{"l":23,"x":-1.73,"y":-2.35},{"l":23,"x":-1.23,"y":-2.01},{"l":23,"x":-0.82,"y":-2.12},{"l":23,"x":-0.41,"y":-2.33},{"l":23,"x":0,"y":-2.44},{"l":23,"x":0.41,"y":-2.27},{"l":23,"x":0.82,"y":-1.93},{"l":23,"x":1.21,"y":-1.77},{"l":23,"x":1.88,"y":-2.33},{"l":23,"x":2.39,"y":-1.99},{"l":23,"x":3.14,"y":-2.23},
{"l":24,"x":-3.14,"y":-2.28},{"l":24,"x":-2.43,"y":-1.88},{"l":24,"x":-1.73,"y":-2.35},{"l":24,"x":-1.23,"y":-2.08},{"l":24,"x":-0.82,"y":-2.19},{"l":24,"x":-0.41,"y":-2.4},{"l":24,"x":0,"y":-2.51},{"l":24,"x":0.41,"y":-2.35},{"l":24,"x":0.82,"y":-2.03},{"l":24,"x":1.21,"y":-1.88},{"l":24,"x":1.88,"y":-2.33},{"l":24,"x":2.39,"y":-2.06},{"l":24,"x":3.14,"y":-2.32},
{"l":25,"x":-3.14,"y":-2.38},{"l":25,"x":-2.43,"y":-1.99},{"l":25,"x":-1.73,"y":-2.35},{"l":25,"x":-1.23,"y":-2.15},{"l":25,"x":-0.82,"y":-2.26},{"l":25,"x":-0.41,"y":-2.48},{"l":25,"x":0,"y":-2.58},{"l":25,"x":0.41,"y":-2.43},{"l":25,"x":0.82,"y":-2.13},{"l":25,"x":1.21,"y":-1.99},{"l":25,"x":1.88,"y":-2.33},{"l":25,"x":2.39,"y":-2.13},{"l":25,"x":3.14,"y":-2.41},
{"l":26,"x":-3.14,"y":-2.49},{"l":26,"x":-2.43,"y":-2.1},{"l":26,"x":-1.73,"y":-2.35},{"l":26,"x":-1.23,"y":-2.23},{"l":26,"x":-0.82,"y":-2.33},{"l":26,"x":-0.41,"y":-2.55},{"l":26,"x":0,"y":-2.66},{"l":26,"x":0.41,"y":-2.51},{"l":26,"x":0.82,"y":-2.23},{"l":26,"x":1.21,"y":-2.1},{"l":26,"x":1.88,"y":-2.33},{"l":26,"x":2.39,"y":-2.21},{"l":26,"x":3.14,"y":-2.5},
{"l":27,"x":-3.14,"y":-2.59},{"l":27,"x":-2.43,"y":-2.21},{"l":27,"x":-1.73,"y":-2.35},{"l":27,"x":-1.23,"y":-2.3},{"l":27,"x":-0.82,"y":-2.41},{"l":27,"x":-0.41,"y":-2.62},{"l":27,"x":0,"y":-2.73},{"l":27,"x":0.41,"y":-2.59},{"l":27,"x":0.82,"y":-2.33},{"l":27,"x":1.21,"y":-2.21},{"l":27,"x":1.88,"y":-2.33},{"l":27,"x":2.39,"y":-2.28},{"l":27,"x":3.14,"y":-2.59},
{"l":28,"x":-3.14,"y":-2.69},{"l":28,"x":-2.43,"y":-2.32},{"l":28,"x":-1.73,"y":-2.35},{"l":28,"x":-1.23,"y":-2.37},{"l":28,"x":-0.82,"y":-2.48},{"l":28,"x":-0.41,"y":-2.7},{"l":28,"x":0,"y":-2.8},{"l":28,"x":0.41,"y":-2.68},{"l":28,"x":0.82,"y":-2.43},{"l":28,"x":1.21,"y":-2.32},{"l":28,"x":1.88,"y":-2.33},{"l":28,"x":2.39,"y":-2.35},{"l":28,"x":3.14,"y":-2.67}
],
"e3":[
{"l":31,"x":-2.23,"y":-0.555},{"l":31,"x":-1.84,"y":-0.91},{"l":31,"x":-1.53,"y":-0.555},
{"l":32,"x":-2.08,"y":-0.555},{"l":32,"x":-1.84,"y":-0.91},{"l":32,"x":-1.65,"y":-0.555},
{"l":33,"x":-1.96,"y":-0.555},{"l":33,"x":-1.84,"y":-0.91},{"l":33,"x":-1.74,"y":-0.555},
{"l":34,"x":1.37,"y":-0.555},{"l":34,"x":1.76,"y":-0.93},{"l":34,"x":2.07,"y":-0.555},
{"l":35,"x":1.52,"y":-0.555},{"l":35,"x":1.76,"y":-0.93},{"l":35,"x":1.95,"y":-0.555},
{"l":36,"x":1.64,"y":-0.555},{"l":36,"x":1.76,"y":-0.93},{"l":36,"x":1.86,"y":-0.555},
{"l":37,"x":-2.11,"y":-2.69},{"l":37,"x":-1.73,"y":-2.35},{"l":37,"x":-1.43,"y":-2.69},
{"l":38,"x":-1.96,"y":-2.69},{"l":38,"x":-1.73,"y":-2.35},{"l":38,"x":-1.55,"y":-2.69},
{"l":39,"x":-1.84,"y":-2.69},{"l":39,"x":-1.73,"y":-2.35},{"l":39,"x":-1.64,"y":-2.69},
{"l":40,"x":1.5,"y":-2.69},{"l":40,"x":1.88,"y":-2.33},{"l":40,"x":2.18,"y":-2.69},
{"l":41,"x":1.65,"y":-2.69},{"l":41,"x":1.88,"y":-2.33},{"l":41,"x":2.06,"y":-2.69},
{"l":42,"x":1.77,"y":-2.69},{"l":42,"x":1.88,"y":-2.33},{"l":42,"x":1.97,"y":-2.69},
{"l":51,"x":-2.43,"y":-1.66},{"l":51,"x":-1.41,"y":-1.34},{"l":51,"x":-1.13,"y":-1.38},
{"l":52,"x":1.21,"y":-1.66},{"l":52,"x":2.2,"y":-1.33},{"l":52,"x":2.5,"y":-1.37}
],
"f1":[
{"l":1,"x":-3.14,"y":-3.002},{"l":1,"x":-2.42,"y":-3.055},{"l":1,"x":-2.01,"y":-3.09},{"l":1,"x":-1.63,"y":-3.131},{"l":1,"x":-1.26,"y":-3.072},{"l":1,"x":-0.63,"y":-3.025},{"l":1,"x":0,"y":-3.002},{"l":1,"x":0.63,"y":-3.011},{"l":1,"x":1.18,"y":-3.049},{"l":1,"x":1.57,"y":-3.09},{"l":1,"x":2.03,"y":-3.137},{"l":1,"x":2.51,"y":-3.06},{"l":1,"x":3.14,"y":-3.002},
{"l":2,"x":-3.14,"y":-3.022},{"l":2,"x":-2.42,"y":-3.072},{"l":2,"x":-2.01,"y":-3.101},{"l":2,"x":-1.63,"y":-3.131},{"l":2,"x":-1.26,"y":-3.079},{"l":2,"x":-0.63,"y":-3.037},{"l":2,"x":0,"y":-3.018},{"l":2,"x":0.63,"y":-3.03},{"l":2,"x":1.18,"y":-3.067},{"l":2,"x":1.57,"y":-3.1},{"l":2,"x":2.03,"y":-3.137},{"l":2,"x":2.51,"y":-3.069},{"l":2,"x":3.14,"y":-3.017},
{"l":3,"x":-3.14,"y":-3.042},{"l":3,"x":-2.42,"y":-3.089},{"l":3,"x":-2.01,"y":-3.112},{"l":3,"x":-1.63,"y":-3.131},{"l":3,"x":-1.26,"y":-3.086},{"l":3,"x":-0.63,"y":-3.05},{"l":3,"x":0,"y":-3.033},{"l":3,"x":0.63,"y":-3.049},{"l":3,"x":1.18,"y":-3.084},{"l":3,"x":1.57,"y":-3.111},{"l":3,"x":2.03,"y":-3.137},{"l":3,"x":2.51,"y":-3.077},{"l":3,"x":3.14,"y":-3.032},
{"l":4,"x":-3.14,"y":-3.062},{"l":4,"x":-2.42,"y":-3.106},{"l":4,"x":-2.01,"y":-3.123},{"l":4,"x":-1.63,"y":-3.131},{"l":4,"x":-1.26,"y":-3.093},{"l":4,"x":-0.63,"y":-3.062},{"l":4,"x":0,"y":-3.049},{"l":4,"x":0.63,"y":-3.069},{"l":4,"x":1.18,"y":-3.102},{"l":4,"x":1.57,"y":-3.121},{"l":4,"x":2.03,"y":-3.137},{"l":4,"x":2.51,"y":-3.086},{"l":4,"x":3.14,"y":-3.047},
{"l":5,"x":-3.14,"y":-3.082},{"l":5,"x":-2.42,"y":-3.123},{"l":5,"x":-2.01,"y":-3.134},{"l":5,"x":-1.63,"y":-3.131},{"l":5,"x":-1.26,"y":-3.1},{"l":5,"x":-0.63,"y":-3.075},{"l":5,"x":0,"y":-3.065},{"l":5,"x":0.63,"y":-3.088},{"l":5,"x":1.18,"y":-3.119},{"l":5,"x":1.57,"y":-3.132},{"l":5,"x":2.03,"y":-3.137},{"l":5,"x":2.51,"y":-3.094},{"l":5,"x":3.14,"y":-3.062},
{"l":6,"x":-3.14,"y":-3.102},{"l":6,"x":-2.42,"y":-3.14},{"l":6,"x":-2.01,"y":-3.145},{"l":6,"x":-1.63,"y":-3.131},{"l":6,"x":-1.26,"y":-3.107},{"l":6,"x":-0.63,"y":-3.087},{"l":6,"x":0,"y":-3.081},{"l":6,"x":0.63,"y":-3.107},{"l":6,"x":1.18,"y":-3.137},{"l":6,"x":1.57,"y":-3.142},{"l":6,"x":2.03,"y":-3.137},{"l":6,"x":2.51,"y":-3.103},{"l":6,"x":3.14,"y":-3.077},
{"l":7,"x":-3.14,"y":-3.121},{"l":7,"x":-2.42,"y":-3.156},{"l":7,"x":-2.01,"y":-3.156},{"l":7,"x":-1.63,"y":-3.131},{"l":7,"x":-1.26,"y":-3.113},{"l":7,"x":-0.63,"y":-3.099},{"l":7,"x":0,"y":-3.096},{"l":7,"x":0.63,"y":-3.126},{"l":7,"x":1.18,"y":-3.155},{"l":7,"x":1.57,"y":-3.152},{"l":7,"x":2.03,"y":-3.137},{"l":7,"x":2.51,"y":-3.112},{"l":7,"x":3.14,"y":-3.092},
{"l":8,"x":-3.14,"y":-3.141},{"l":8,"x":-2.42,"y":-3.173},{"l":8,"x":-2.01,"y":-3.167},{"l":8,"x":-1.63,"y":-3.131},{"l":8,"x":-1.26,"y":-3.12},{"l":8,"x":-0.63,"y":-3.112},{"l":8,"x":0,"y":-3.112},{"l":8,"x":0.63,"y":-3.145},{"l":8,"x":1.18,"y":-3.172},{"l":8,"x":1.57,"y":-3.163},{"l":8,"x":2.03,"y":-3.137},{"l":8,"x":2.51,"y":-3.12},{"l":8,"x":3.14,"y":-3.107},
{"l":9,"x":-3.14,"y":-3.161},{"l":9,"x":-2.42,"y":-3.19},{"l":9,"x":-2.01,"y":-3.178},{"l":9,"x":-1.63,"y":-3.131},{"l":9,"x":-1.26,"y":-3.127},{"l":9,"x":-0.63,"y":-3.124},{"l":9,"x":0,"y":-3.128},{"l":9,"x":0.63,"y":-3.165},{"l":9,"x":1.18,"y":-3.19},{"l":9,"x":1.57,"y":-3.173},{"l":9,"x":2.03,"y":-3.137},{"l":9,"x":2.51,"y":-3.129},{"l":9,"x":3.14,"y":-3.122},
{"l":10,"x":-3.14,"y":-3.181},{"l":10,"x":-2.42,"y":-3.207},{"l":10,"x":-2.01,"y":-3.189},{"l":10,"x":-1.63,"y":-3.131},{"l":10,"x":-1.26,"y":-3.134},{"l":10,"x":-0.63,"y":-3.137},{"l":10,"x":0,"y":-3.143},{"l":10,"x":0.63,"y":-3.184},{"l":10,"x":1.18,"y":-3.207},{"l":10,"x":1.57,"y":-3.184},{"l":10,"x":2.03,"y":-3.137},{"l":10,"x":2.51,"y":-3.137},{"l":10,"x":3.14,"y":-3.137},
{"l":11,"x":-3.14,"y":-3.225},{"l":11,"x":-2.36,"y":-3.228},{"l":11,"x":-1.76,"y":-3.266},{"l":11,"x":-1.38,"y":-3.245},{"l":11,"x":-0.94,"y":-3.233},{"l":11,"x":-0.13,"y":-3.225},{"l":11,"x":0.63,"y":-3.225},{"l":11,"x":1.18,"y":-3.23},{"l":11,"x":1.57,"y":-3.245},{"l":11,"x":1.88,"y":-3.266},{"l":11,"x":2.51,"y":-3.236},{"l":11,"x":3.14,"y":-3.225},
{"l":12,"x":-3.14,"y":-3.231},{"l":12,"x":-2.36,"y":-3.239},{"l":12,"x":-1.76,"y":-3.266},{"l":12,"x":-1.38,"y":-3.251},{"l":12,"x":-0.94,"y":-3.239},{"l":12,"x":-0.13,"y":-3.23},{"l":12,"x":0.63,"y":-3.232},{"l":12,"x":1.18,"y":-3.24},{"l":12,"x":1.57,"y":-3.252},{"l":12,"x":1.88,"y":-3.266},{"l":12,"x":2.51,"y":-3.241},{"l":12,"x":3.14,"y":-3.23},
{"l":13,"x":-3.14,"y":-3.237},{"l":13,"x":-2.36,"y":-3.249},{"l":13,"x":-1.76,"y":-3.266},{"l":13,"x":-1.38,"y":-3.256},{"l":13,"x":-0.94,"y":-3.245},{"l":13,"x":-0.13,"y":-3.234},{"l":13,"x":0.63,"y":-3.239},{"l":13,"x":1.18,"y":-3.251},{"l":13,"x":1.57,"y":-3.259},{"l":13,"x":1.88,"y":-3.266},{"l":13,"x":2.51,"y":-3.246},{"l":13,"x":3.14,"y":-3.236},
{"l":14,"x":-3.14,"y":-3.242},{"l":14,"x":-2.36,"y":-3.26},{"l":14,"x":-1.76,"y":-3.266},{"l":14,"x":-1.38,"y":-3.262},{"l":14,"x":-0.94,"y":-3.252},{"l":14,"x":-0.13,"y":-3.239},{"l":14,"x":0.63,"y":-3.246},{"l":14,"x":1.18,"y":-3.261},{"l":14,"x":1.57,"y":-3.266},{"l":14,"x":1.88,"y":-3.266},{"l":14,"x":2.51,"y":-3.252},{"l":14,"x":3.14,"y":-3.241},
{"l":15,"x":-3.14,"y":-3.248},{"l":15,"x":-2.36,"y":-3.271},{"l":15,"x":-1.76,"y":-3.266},{"l":15,"x":-1.38,"y":-3.267},{"l":15,"x":-0.94,"y":-3.258},{"l":15,"x":-0.13,"y":-3.243},{"l":15,"x":0.63,"y":-3.253},{"l":15,"x":1.18,"y":-3.272},{"l":15,"x":1.57,"y":-3.273},{"l":15,"x":1.88,"y":-3.266},{"l":15,"x":2.51,"y":-3.257},{"l":15,"x":3.14,"y":-3.247},
{"l":16,"x":-3.14,"y":-3.254},{"l":16,"x":-2.36,"y":-3.282},{"l":16,"x":-1.76,"y":-3.266},{"l":16,"x":-1.38,"y":-3.273},{"l":16,"x":-0.94,"y":-3.264},{"l":16,"x":-0.13,"y":-3.248},{"l":16,"x":0.63,"y":-3.261},{"l":16,"x":1.18,"y":-3.282},{"l":16,"x":1.57,"y":-3.28},{"l":16,"x":1.88,"y":-3.266},{"l":16,"x":2.51,"y":-3.262},{"l":16,"x":3.14,"y":-3.252},
{"l":17,"x":-3.14,"y":-3.26},{"l":17,"x":-2.36,"y":-3.292},{"l":17,"x":-1.76,"y":-3.266},{"l":17,"x":-1.38,"y":-3.279},{"l":17,"x":-0.94,"y":-3.27},{"l":17,"x":-0.13,"y":-3.253},{"l":17,"x":0.63,"y":-3.268},{"l":17,"x":1.18,"y":-3.292},{"l":17,"x":1.57,"y":-3.286},{"l":17,"x":1.88,"y":-3.266},{"l":17,"x":2.51,"y":-3.267},{"l":17,"x":3.14,"y":-3.257},
{"l":18,"x":-3.14,"y":-3.266},{"l":18,"x":-2.36,"y":-3.303},{"l":18,"x":-1.76,"y":-3.266},{"l":18,"x":-1.38,"y":-3.284},{"l":18,"x":-0.94,"y":-3.276},{"l":18,"x":-0.13,"y":-3.257},{"l":18,"x":0.63,"y":-3.275},{"l":18,"x":1.18,"y":-3.303},{"l":18,"x":1.57,"y":-3.293},{"l":18,"x":1.88,"y":-3.266},{"l":18,"x":2.51,"y":-3.272},{"l":18,"x":3.14,"y":-3.263},
{"l":19,"x":-3.14,"y":-3.271},{"l":19,"x":-2.36,"y":-3.314},{"l":19,"x":-1.76,"y":-3.266},{"l":19,"x":-1.38,"y":-3.29},{"l":19,"x":-0.94,"y":-3.283},{"l":19,"x":-0.13,"y":-3.262},{"l":19,"x":0.63,"y":-3.282},{"l":19,"x":1.18,"y":-3.313},{"l":19,"x":1.57,"y":-3.3},{"l":19,"x":1.88,"y":-3.266},{"l":19,"x":2.51,"y":-3.278},{"l":19,"x":3.14,"y":-3.268},
{"l":20,"x":-3.14,"y":-3.277},{"l":20,"x":-2.36,"y":-3.324},{"l":20,"x":-1.76,"y":-3.266},{"l":20,"x":-1.38,"y":-3.295},{"l":20,"x":-0.94,"y":-3.289},{"l":20,"x":-0.13,"y":-3.266},{"l":20,"x":0.63,"y":-3.289},{"l":20,"x":1.18,"y":-3.324},{"l":20,"x":1.57,"y":-3.307},{"l":20,"x":1.88,"y":-3.266},{"l":20,"x":2.51,"y":-3.283},{"l":20,"x":3.14,"y":-3.274}
],
"f2":[
{"l":21,"x":-3.14,"y":-3.444},{"l":21,"x":-2.42,"y":-3.4},{"l":21,"x":-2.01,"y":-3.441},{"l":21,"x":-1.63,"y":-3.526},{"l":21,"x":-1.26,"y":-3.5},{"l":21,"x":-0.63,"y":-3.48},{"l":21,"x":0,"y":-3.45},{"l":21,"x":0.63,"y":-3.421},{"l":21,"x":1.18,"y":-3.4},{"l":21,"x":1.57,"y":-3.441},{"l":21,"x":1.96,"y":-3.523},{"l":21,"x":2.36,"y":-3.503},{"l":21,"x":2.73,"y":-3.512},{"l":21,"x":3.14,"y":-3.526},
{"l":22,"x":-3.14,"y":-3.473},{"l":22,"x":-2.42,"y":-3.437},{"l":22,"x":-2.01,"y":-3.466},{"l":22,"x":-1.63,"y":-3.526},{"l":22,"x":-1.26,"y":-3.516},{"l":22,"x":-0.63,"y":-3.502},{"l":22,"x":0,"y":-3.478},{"l":22,"x":0.63,"y":-3.451},{"l":22,"x":1.18,"y":-3.429},{"l":22,"x":1.57,"y":-3.461},{"l":22,"x":1.96,"y":-3.523},{"l":22,"x":2.36,"y":-3.519},{"l":22,"x":2.73,"y":-3.532},{"l":22,"x":3.14,"y":-3.548},
{"l":23,"x":-3.14,"y":-3.502},{"l":23,"x":-2.42,"y":-3.474},{"l":23,"x":-2.01,"y":-3.491},{"l":23,"x":-1.63,"y":-3.526},{"l":23,"x":-1.26,"y":-3.533},{"l":23,"x":-0.63,"y":-3.524},{"l":23,"x":0,"y":-3.507},{"l":23,"x":0.63,"y":-3.48},{"l":23,"x":1.18,"y":-3.459},{"l":23,"x":1.57,"y":-3.48},{"l":23,"x":1.96,"y":-3.523},{"l":23,"x":2.36,"y":-3.535},{"l":23,"x":2.73,"y":-3.552},{"l":23,"x":3.14,"y":-3.57},
{"l":24,"x":-3.14,"y":-3.531},{"l":24,"x":-2.42,"y":-3.511},{"l":24,"x":-2.01,"y":-3.515},{"l":24,"x":-1.63,"y":-3.526},{"l":24,"x":-1.26,"y":-3.549},{"l":24,"x":-0.63,"y":-3.545},{"l":24,"x":0,"y":-3.535},{"l":24,"x":0.63,"y":-3.51},{"l":24,"x":1.18,"y":-3.488},{"l":24,"x":1.57,"y":-3.5},{"l":24,"x":1.96,"y":-3.523},{"l":24,"x":2.36,"y":-3.551},{"l":24,"x":2.73,"y":-3.572},{"l":24,"x":3.14,"y":-3.592},
{"l":25,"x":-3.14,"y":-3.56},{"l":25,"x":-2.42,"y":-3.548},{"l":25,"x":-2.01,"y":-3.54},{"l":25,"x":-1.63,"y":-3.526},{"l":25,"x":-1.26,"y":-3.565},{"l":25,"x":-0.63,"y":-3.567},{"l":25,"x":0,"y":-3.563},{"l":25,"x":0.63,"y":-3.54},{"l":25,"x":1.18,"y":-3.517},{"l":25,"x":1.57,"y":-3.519},{"l":25,"x":1.96,"y":-3.523},{"l":25,"x":2.36,"y":-3.567},{"l":25,"x":2.73,"y":-3.592},{"l":25,"x":3.14,"y":-3.614},
{"l":26,"x":-3.14,"y":-3.589},{"l":26,"x":-2.42,"y":-3.586},{"l":26,"x":-2.01,"y":-3.565},{"l":26,"x":-1.63,"y":-3.526},{"l":26,"x":-1.26,"y":-3.582},{"l":26,"x":-0.63,"y":-3.589},{"l":26,"x":0,"y":-3.592},{"l":26,"x":0.63,"y":-3.57},{"l":26,"x":1.18,"y":-3.547},{"l":26,"x":1.57,"y":-3.539},{"l":26,"x":1.96,"y":-3.523},{"l":26,"x":2.36,"y":-3.583},{"l":26,"x":2.73,"y":-3.613},{"l":26,"x":3.14,"y":-3.636},
{"l":27,"x":-3.14,"y":-3.618},{"l":27,"x":-2.42,"y":-3.623},{"l":27,"x":-2.01,"y":-3.59},{"l":27,"x":-1.63,"y":-3.526},{"l":27,"x":-1.26,"y":-3.598},{"l":27,"x":-0.63,"y":-3.611},{"l":27,"x":0,"y":-3.62},{"l":27,"x":0.63,"y":-3.599},{"l":27,"x":1.18,"y":-3.576},{"l":27,"x":1.57,"y":-3.559},{"l":27,"x":1.96,"y":-3.523},{"l":27,"x":2.36,"y":-3.599},{"l":27,"x":2.73,"y":-3.633},{"l":27,"x":3.14,"y":-3.657},
{"l":28,"x":-3.14,"y":-3.647},{"l":28,"x":-2.42,"y":-3.66},{"l":28,"x":-2.01,"y":-3.615},{"l":28,"x":-1.63,"y":-3.526},{"l":28,"x":-1.26,"y":-3.614},{"l":28,"x":-0.63,"y":-3.633},{"l":28,"x":0,"y":-3.648},{"l":28,"x":0.63,"y":-3.629},{"l":28,"x":1.18,"y":-3.605},{"l":28,"x":1.57,"y":-3.578},{"l":28,"x":1.96,"y":-3.523},{"l":28,"x":2.36,"y":-3.615},{"l":28,"x":2.73,"y":-3.653},{"l":28,"x":3.14,"y":-3.679},
{"l":29,"x":-3.14,"y":-3.676},{"l":29,"x":-2.42,"y":-3.697},{"l":29,"x":-2.01,"y":-3.639},{"l":29,"x":-1.63,"y":-3.526},{"l":29,"x":-1.26,"y":-3.63},{"l":29,"x":-0.63,"y":-3.654},{"l":29,"x":0,"y":-3.676},{"l":29,"x":0.63,"y":-3.659},{"l":29,"x":1.18,"y":-3.634},{"l":29,"x":1.57,"y":-3.598},{"l":29,"x":1.96,"y":-3.523},{"l":29,"x":2.36,"y":-3.631},{"l":29,"x":2.73,"y":-3.673},{"l":29,"x":3.14,"y":-3.701},
{"l":30,"x":-3.14,"y":-3.705},{"l":30,"x":-2.42,"y":-3.734},{"l":30,"x":-2.01,"y":-3.664},{"l":30,"x":-1.63,"y":-3.526},{"l":30,"x":-1.26,"y":-3.647},{"l":30,"x":-0.63,"y":-3.676},{"l":30,"x":0,"y":-3.705},{"l":30,"x":0.63,"y":-3.688},{"l":30,"x":1.18,"y":-3.664},{"l":30,"x":1.57,"y":-3.617},{"l":30,"x":1.96,"y":-3.523},{"l":30,"x":2.36,"y":-3.647},{"l":30,"x":2.73,"y":-3.693},{"l":30,"x":3.14,"y":-3.723}
],
"f3":[
{"l":51,"x":-1.9,"y":-3.186},{"l":51,"x":-0.9,"y":-3.137},{"l":51,"x":0.3,"y":-3.138},
{"l":52,"x":1.45,"y":-3.19},{"l":52,"x":2.09,"y":-3.16},{"l":52,"x":3.14,"y":-3.136},
{"l":53,"x":-2.2,"y":-3.424},{"l":53,"x":-1.42,"y":-3.5},{"l":53,"x":3.14,"y":-3.5}
]
}
}
